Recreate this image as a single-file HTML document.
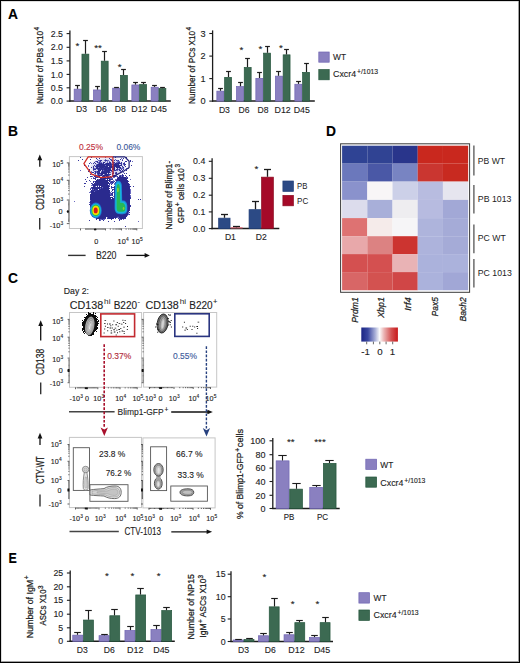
<!DOCTYPE html>
<html><head><meta charset="utf-8"><style>
html,body{margin:0;padding:0;background:#fff;}
svg{display:block;}
text{font-family:"Liberation Sans", sans-serif;stroke:currentColor;stroke-width:0.12px;} text.r{stroke-width:0.25px;} text.n{stroke-width:0;}
</style></head><body>
<svg width="520" height="663" viewBox="0 0 520 663">
<defs><filter id="bl0" x="-5%" y="-5%" width="110%" height="110%"><feGaussianBlur stdDeviation="0.35"/></filter><filter id="bl1" x="-20%" y="-20%" width="140%" height="140%"><feGaussianBlur stdDeviation="0.5"/></filter><filter id="bl2" x="-20%" y="-20%" width="140%" height="140%"><feGaussianBlur stdDeviation="0.6"/></filter><filter id="bl3" x="-30%" y="-30%" width="160%" height="160%"><feGaussianBlur stdDeviation="1.4"/></filter><linearGradient id="cbar" x1="0" x2="1" y1="0" y2="0"><stop offset="0" stop-color="#1b2585"/><stop offset="0.18" stop-color="#3a47a0"/><stop offset="0.38" stop-color="#a9b0d8"/><stop offset="0.5" stop-color="#fbfbfb"/><stop offset="0.62" stop-color="#ebb4b4"/><stop offset="0.82" stop-color="#d45252"/><stop offset="1" stop-color="#c8181a"/></linearGradient></defs>
<rect x="0.5" y="0.5" width="519" height="662" fill="#fff" stroke="#000" stroke-width="1"/>
<rect x="1.5" y="1.5" width="517" height="660" fill="none" stroke="#dedede" stroke-width="1"/>
<line x1="518.5" y1="1" x2="518.5" y2="662" stroke="#a0a0a0" stroke-width="1"/>
<line x1="1" y1="661.5" x2="519" y2="661.5" stroke="#a0a0a0" stroke-width="1"/>
<text x="8.1" y="18.7" font-size="13.8" text-anchor="start" fill="#000" color="#000" font-weight="bold" >A</text>
<text x="8.0" y="136.2" font-size="13.8" text-anchor="start" fill="#000" color="#000" font-weight="bold" >B</text>
<text x="7.9" y="282.9" font-size="13.8" text-anchor="start" fill="#000" color="#000" font-weight="bold" >C</text>
<text x="326.0" y="136.4" font-size="13.8" text-anchor="start" fill="#000" color="#000" font-weight="bold" >D</text>
<text x="8.4" y="562.8" font-size="13.8" text-anchor="start" fill="#000" color="#000" font-weight="bold" textLength="8.3" lengthAdjust="spacingAndGlyphs" >E</text>
<line x1="69.9" y1="30.5" x2="69.9" y2="101.69999999999999" stroke="#1c1c1c" stroke-width="1.3" />
<line x1="66.60000000000001" y1="33.6" x2="69.9" y2="33.6" stroke="#1c1c1c" stroke-width="1.1" />
<text x="63.0" y="36.77" font-size="8.8" text-anchor="end" fill="#1c1c1c" color="#1c1c1c" >2.5</text>
<line x1="66.60000000000001" y1="47.3" x2="69.9" y2="47.3" stroke="#1c1c1c" stroke-width="1.1" />
<text x="63.0" y="50.47" font-size="8.8" text-anchor="end" fill="#1c1c1c" color="#1c1c1c" >2.0</text>
<line x1="66.60000000000001" y1="60.9" x2="69.9" y2="60.9" stroke="#1c1c1c" stroke-width="1.1" />
<text x="63.0" y="64.07" font-size="8.8" text-anchor="end" fill="#1c1c1c" color="#1c1c1c" >1.5</text>
<line x1="66.60000000000001" y1="74.4" x2="69.9" y2="74.4" stroke="#1c1c1c" stroke-width="1.1" />
<text x="63.0" y="77.57" font-size="8.8" text-anchor="end" fill="#1c1c1c" color="#1c1c1c" >1.0</text>
<line x1="66.60000000000001" y1="87.8" x2="69.9" y2="87.8" stroke="#1c1c1c" stroke-width="1.1" />
<text x="63.0" y="90.97" font-size="8.8" text-anchor="end" fill="#1c1c1c" color="#1c1c1c" >0.5</text>
<line x1="66.60000000000001" y1="101.1" x2="69.9" y2="101.1" stroke="#1c1c1c" stroke-width="1.1" />
<text x="63.0" y="104.27" font-size="8.8" text-anchor="end" fill="#1c1c1c" color="#1c1c1c" >0.0</text>
<line x1="69.3" y1="101.1" x2="170.8" y2="101.1" stroke="#1c1c1c" stroke-width="1.5" />
<rect x="74.15" y="89.15" width="7.10" height="11.95" fill="#8a80c0" stroke="#6f64b2" stroke-width="0.7"/>
<rect x="81.95" y="54.15" width="6.90" height="46.95" fill="#3c6a52" stroke="#24553c" stroke-width="0.7"/>
<line x1="77.50" y1="88.8" x2="77.50" y2="85.5" stroke="#1c1c1c" stroke-width="1.2" />
<line x1="75.10" y1="85.5" x2="79.90" y2="85.5" stroke="#1c1c1c" stroke-width="1.2" />
<line x1="85.50" y1="53.8" x2="85.50" y2="40.5" stroke="#1c1c1c" stroke-width="1.2" />
<line x1="83.10" y1="40.5" x2="87.90" y2="40.5" stroke="#1c1c1c" stroke-width="1.2" />
<rect x="93.45" y="89.95" width="7.10" height="11.15" fill="#8a80c0" stroke="#6f64b2" stroke-width="0.7"/>
<rect x="101.25" y="61.15" width="6.90" height="39.95" fill="#3c6a52" stroke="#24553c" stroke-width="0.7"/>
<line x1="97.50" y1="89.6" x2="97.50" y2="86.5" stroke="#1c1c1c" stroke-width="1.2" />
<line x1="95.10" y1="86.5" x2="99.90" y2="86.5" stroke="#1c1c1c" stroke-width="1.2" />
<line x1="104.50" y1="60.8" x2="104.50" y2="51.5" stroke="#1c1c1c" stroke-width="1.2" />
<line x1="102.10" y1="51.5" x2="106.90" y2="51.5" stroke="#1c1c1c" stroke-width="1.2" />
<rect x="112.65" y="88.15" width="7.10" height="12.95" fill="#8a80c0" stroke="#6f64b2" stroke-width="0.7"/>
<rect x="120.45" y="75.35" width="6.90" height="25.75" fill="#3c6a52" stroke="#24553c" stroke-width="0.7"/>
<line x1="114.10" y1="87.5" x2="118.90" y2="87.5" stroke="#1c1c1c" stroke-width="1.2" />
<line x1="123.50" y1="75.0" x2="123.50" y2="69.5" stroke="#1c1c1c" stroke-width="1.2" />
<line x1="121.10" y1="69.5" x2="125.90" y2="69.5" stroke="#1c1c1c" stroke-width="1.2" />
<rect x="131.85" y="84.95" width="7.10" height="16.15" fill="#8a80c0" stroke="#6f64b2" stroke-width="0.7"/>
<rect x="139.65" y="84.55" width="6.90" height="16.55" fill="#3c6a52" stroke="#24553c" stroke-width="0.7"/>
<line x1="135.50" y1="84.6" x2="135.50" y2="82.5" stroke="#1c1c1c" stroke-width="1.2" />
<line x1="133.10" y1="82.5" x2="137.90" y2="82.5" stroke="#1c1c1c" stroke-width="1.2" />
<line x1="143.50" y1="84.2" x2="143.50" y2="82.5" stroke="#1c1c1c" stroke-width="1.2" />
<line x1="141.10" y1="82.5" x2="145.90" y2="82.5" stroke="#1c1c1c" stroke-width="1.2" />
<rect x="151.15" y="87.25" width="7.10" height="13.85" fill="#8a80c0" stroke="#6f64b2" stroke-width="0.7"/>
<rect x="158.95" y="88.55" width="6.90" height="12.55" fill="#3c6a52" stroke="#24553c" stroke-width="0.7"/>
<line x1="154.50" y1="86.9" x2="154.50" y2="85.5" stroke="#1c1c1c" stroke-width="1.2" />
<line x1="152.10" y1="85.5" x2="156.90" y2="85.5" stroke="#1c1c1c" stroke-width="1.2" />
<line x1="162.50" y1="88.2" x2="162.50" y2="87.5" stroke="#1c1c1c" stroke-width="1.2" />
<line x1="160.10" y1="87.5" x2="164.90" y2="87.5" stroke="#1c1c1c" stroke-width="1.2" />
<text x="81.6" y="112.4" font-size="9.2" text-anchor="middle" fill="#1c1c1c" color="#1c1c1c" textLength="11" lengthAdjust="spacingAndGlyphs" >D3</text>
<text x="101.2" y="112.4" font-size="9.2" text-anchor="middle" fill="#1c1c1c" color="#1c1c1c" textLength="11" lengthAdjust="spacingAndGlyphs" >D6</text>
<text x="120.2" y="112.4" font-size="9.2" text-anchor="middle" fill="#1c1c1c" color="#1c1c1c" textLength="11" lengthAdjust="spacingAndGlyphs" >D8</text>
<text x="139.4" y="112.4" font-size="9.2" text-anchor="middle" fill="#1c1c1c" color="#1c1c1c" textLength="16.2" lengthAdjust="spacingAndGlyphs" >D12</text>
<text x="158.9" y="112.4" font-size="9.2" text-anchor="middle" fill="#1c1c1c" color="#1c1c1c" textLength="16.2" lengthAdjust="spacingAndGlyphs" >D45</text>
<text x="77.4" y="48.9" font-size="9.8" text-anchor="middle" fill="#1c1c1c" color="#1c1c1c" >*</text>
<text x="98.0" y="51.4" font-size="9.8" text-anchor="middle" fill="#1c1c1c" color="#1c1c1c" >**</text>
<text x="119.7" y="70.0" font-size="9.8" text-anchor="middle" fill="#1c1c1c" color="#1c1c1c" >*</text>
<text transform="translate(43.2,104.0) rotate(-90)" font-size="9.9" text-anchor="start" fill="#1c1c1c" color="#1c1c1c" class="r" textLength="73.2" lengthAdjust="spacingAndGlyphs">Number of PBs X10</text>
<text transform="translate(39.300000000000004,30.4) rotate(-90)" font-size="6.6" text-anchor="start" fill="#1c1c1c" color="#1c1c1c" class="r">4</text>
<line x1="212.6" y1="30.4" x2="212.6" y2="101.69999999999999" stroke="#1c1c1c" stroke-width="1.3" />
<line x1="209.29999999999998" y1="33.5" x2="212.6" y2="33.5" stroke="#1c1c1c" stroke-width="1.1" />
<text x="205.5" y="36.81" font-size="9.2" text-anchor="end" fill="#1c1c1c" color="#1c1c1c" >3</text>
<line x1="209.29999999999998" y1="56.1" x2="212.6" y2="56.1" stroke="#1c1c1c" stroke-width="1.1" />
<text x="205.5" y="59.41" font-size="9.2" text-anchor="end" fill="#1c1c1c" color="#1c1c1c" >2</text>
<line x1="209.29999999999998" y1="78.6" x2="212.6" y2="78.6" stroke="#1c1c1c" stroke-width="1.1" />
<text x="205.5" y="81.91" font-size="9.2" text-anchor="end" fill="#1c1c1c" color="#1c1c1c" >1</text>
<line x1="209.29999999999998" y1="101.1" x2="212.6" y2="101.1" stroke="#1c1c1c" stroke-width="1.1" />
<text x="205.5" y="104.41" font-size="9.2" text-anchor="end" fill="#1c1c1c" color="#1c1c1c" >0</text>
<line x1="212.0" y1="101.1" x2="314.8" y2="101.1" stroke="#1c1c1c" stroke-width="1.5" />
<rect x="216.85" y="91.15" width="7.10" height="9.95" fill="#8a80c0" stroke="#6f64b2" stroke-width="0.7"/>
<rect x="224.65" y="77.35" width="6.90" height="23.75" fill="#3c6a52" stroke="#24553c" stroke-width="0.7"/>
<line x1="220.50" y1="90.8" x2="220.50" y2="88.5" stroke="#1c1c1c" stroke-width="1.2" />
<line x1="218.10" y1="88.5" x2="222.90" y2="88.5" stroke="#1c1c1c" stroke-width="1.2" />
<line x1="228.50" y1="77.0" x2="228.50" y2="71.5" stroke="#1c1c1c" stroke-width="1.2" />
<line x1="226.10" y1="71.5" x2="230.90" y2="71.5" stroke="#1c1c1c" stroke-width="1.2" />
<rect x="236.45" y="86.55" width="7.10" height="14.55" fill="#8a80c0" stroke="#6f64b2" stroke-width="0.7"/>
<rect x="244.25" y="67.45" width="6.90" height="33.65" fill="#3c6a52" stroke="#24553c" stroke-width="0.7"/>
<line x1="240.50" y1="86.2" x2="240.50" y2="82.5" stroke="#1c1c1c" stroke-width="1.2" />
<line x1="238.10" y1="82.5" x2="242.90" y2="82.5" stroke="#1c1c1c" stroke-width="1.2" />
<line x1="247.50" y1="67.1" x2="247.50" y2="58.5" stroke="#1c1c1c" stroke-width="1.2" />
<line x1="245.10" y1="58.5" x2="249.90" y2="58.5" stroke="#1c1c1c" stroke-width="1.2" />
<rect x="255.85" y="78.35" width="7.10" height="22.75" fill="#8a80c0" stroke="#6f64b2" stroke-width="0.7"/>
<rect x="263.65" y="53.15" width="6.90" height="47.95" fill="#3c6a52" stroke="#24553c" stroke-width="0.7"/>
<line x1="259.50" y1="78.0" x2="259.50" y2="72.5" stroke="#1c1c1c" stroke-width="1.2" />
<line x1="257.10" y1="72.5" x2="261.90" y2="72.5" stroke="#1c1c1c" stroke-width="1.2" />
<line x1="267.50" y1="52.8" x2="267.50" y2="46.5" stroke="#1c1c1c" stroke-width="1.2" />
<line x1="265.10" y1="46.5" x2="269.90" y2="46.5" stroke="#1c1c1c" stroke-width="1.2" />
<rect x="275.35" y="76.15" width="7.10" height="24.95" fill="#8a80c0" stroke="#6f64b2" stroke-width="0.7"/>
<rect x="283.15" y="54.85" width="6.90" height="46.25" fill="#3c6a52" stroke="#24553c" stroke-width="0.7"/>
<line x1="278.50" y1="75.8" x2="278.50" y2="71.5" stroke="#1c1c1c" stroke-width="1.2" />
<line x1="276.10" y1="71.5" x2="280.90" y2="71.5" stroke="#1c1c1c" stroke-width="1.2" />
<line x1="286.50" y1="54.5" x2="286.50" y2="49.5" stroke="#1c1c1c" stroke-width="1.2" />
<line x1="284.10" y1="49.5" x2="288.90" y2="49.5" stroke="#1c1c1c" stroke-width="1.2" />
<rect x="294.85" y="84.25" width="7.10" height="16.85" fill="#8a80c0" stroke="#6f64b2" stroke-width="0.7"/>
<rect x="302.65" y="72.35" width="6.90" height="28.75" fill="#3c6a52" stroke="#24553c" stroke-width="0.7"/>
<line x1="298.50" y1="83.9" x2="298.50" y2="81.5" stroke="#1c1c1c" stroke-width="1.2" />
<line x1="296.10" y1="81.5" x2="300.90" y2="81.5" stroke="#1c1c1c" stroke-width="1.2" />
<line x1="306.50" y1="72.0" x2="306.50" y2="63.5" stroke="#1c1c1c" stroke-width="1.2" />
<line x1="304.10" y1="63.5" x2="308.90" y2="63.5" stroke="#1c1c1c" stroke-width="1.2" />
<text x="224.4" y="112.6" font-size="9.2" text-anchor="middle" fill="#1c1c1c" color="#1c1c1c" textLength="11" lengthAdjust="spacingAndGlyphs" >D3</text>
<text x="244.0" y="112.6" font-size="9.2" text-anchor="middle" fill="#1c1c1c" color="#1c1c1c" textLength="11" lengthAdjust="spacingAndGlyphs" >D6</text>
<text x="263.1" y="112.6" font-size="9.2" text-anchor="middle" fill="#1c1c1c" color="#1c1c1c" textLength="11" lengthAdjust="spacingAndGlyphs" >D8</text>
<text x="282.6" y="112.6" font-size="9.2" text-anchor="middle" fill="#1c1c1c" color="#1c1c1c" textLength="16.2" lengthAdjust="spacingAndGlyphs" >D12</text>
<text x="301.8" y="112.6" font-size="9.2" text-anchor="middle" fill="#1c1c1c" color="#1c1c1c" textLength="16.2" lengthAdjust="spacingAndGlyphs" >D45</text>
<text x="241.5" y="52.9" font-size="9.8" text-anchor="middle" fill="#1c1c1c" color="#1c1c1c" >*</text>
<text x="260.3" y="51.8" font-size="9.8" text-anchor="middle" fill="#1c1c1c" color="#1c1c1c" >*</text>
<text x="280.9" y="51.4" font-size="9.8" text-anchor="middle" fill="#1c1c1c" color="#1c1c1c" >*</text>
<text transform="translate(194.5,104.0) rotate(-90)" font-size="9.9" text-anchor="start" fill="#1c1c1c" color="#1c1c1c" class="r" textLength="73.2" lengthAdjust="spacingAndGlyphs">Number of PCs X10</text>
<text transform="translate(190.6,30.4) rotate(-90)" font-size="6.6" text-anchor="start" fill="#1c1c1c" color="#1c1c1c" class="r">4</text>
<rect x="318.8" y="52.0" width="10.4" height="10.2" fill="#8a80c0" stroke="#6f64b2" stroke-width="0.7" />
<rect x="318.8" y="69.6" width="10.4" height="10.2" fill="#3c6a52" stroke="#24553c" stroke-width="0.7" />
<text x="333.0" y="59.6" font-size="8.9" text-anchor="start" fill="#1c1c1c" color="#1c1c1c" textLength="13.0" lengthAdjust="spacingAndGlyphs" >WT</text>
<text x="333.0" y="77.1" font-size="9.1" text-anchor="start" fill="#1c1c1c" color="#1c1c1c" textLength="23.2" lengthAdjust="spacingAndGlyphs" >Cxcr4</text>
<text x="357.0" y="73.89999999999999" font-size="6.6" text-anchor="start" fill="#1c1c1c" color="#1c1c1c" textLength="21.0" lengthAdjust="spacingAndGlyphs" >+/1013</text>
<rect x="69.4" y="156.6" width="73.0" height="71.9" fill="#fff" stroke="#c6c6c6" stroke-width="1" />
<ellipse cx="108" cy="167" rx="17" ry="9" fill="#c4c4e6" opacity="0.7" filter="url(#bl3)"/>
<g filter="url(#bl0)"><path d="M105 157h1v1h-1zM121 158h1v1h-1zM97 159h1v1h-1zM105 159h1v1h-1zM111 159h1v1h-1zM115 159h1v1h-1zM122 159h1v1h-1zM98 160h2v1h-2zM104 160h1v1h-1zM107 160h2v1h-2zM112 160h1v1h-1zM117 160h1v1h-1zM95 161h1v1h-1zM99 161h1v1h-1zM105 161h1v1h-1zM107 161h1v1h-1zM109 161h1v1h-1zM117 161h3v1h-3zM132 161h1v1h-1zM90 162h1v1h-1zM98 162h1v1h-1zM100 162h2v1h-2zM107 162h1v1h-1zM112 162h1v1h-1zM116 162h2v1h-2zM124 162h1v1h-1zM91 163h1v1h-1zM98 163h1v1h-1zM102 163h1v1h-1zM105 163h1v1h-1zM111 163h1v1h-1zM114 163h1v1h-1zM96 164h1v1h-1zM123 164h1v1h-1zM88 165h1v1h-1zM105 165h1v1h-1zM88 166h1v1h-1zM98 167h1v1h-1zM122 167h1v1h-1zM94 168h2v1h-2zM119 168h1v1h-1zM121 168h3v1h-3zM126 168h1v1h-1zM128 168h1v1h-1zM97 169h1v1h-1zM118 169h1v1h-1zM80 170h1v1h-1zM93 170h1v1h-1zM103 170h1v1h-1zM113 170h1v1h-1zM116 170h2v1h-2zM124 170h1v1h-1zM91 171h1v1h-1zM94 171h1v1h-1zM96 171h1v1h-1zM101 171h1v1h-1zM111 171h1v1h-1zM113 171h1v1h-1zM120 171h2v1h-2zM91 172h1v1h-1zM96 172h1v1h-1zM110 172h1v1h-1zM115 172h1v1h-1zM123 172h1v1h-1zM94 173h1v1h-1zM93 174h1v1h-1zM95 174h1v1h-1zM97 174h1v1h-1zM99 174h2v1h-2zM104 174h1v1h-1zM112 174h1v1h-1zM95 175h1v1h-1zM97 175h1v1h-1zM102 175h1v1h-1zM109 175h1v1h-1zM112 175h1v1h-1zM115 175h2v1h-2zM119 175h1v1h-1zM121 175h1v1h-1zM92 176h1v1h-1zM96 176h1v1h-1zM105 176h1v1h-1zM108 176h1v1h-1zM116 176h1v1h-1zM121 176h1v1h-1zM123 176h1v1h-1zM93 177h1v1h-1zM98 177h1v1h-1zM101 177h1v1h-1zM113 177h2v1h-2zM117 177h1v1h-1zM126 177h1v1h-1zM91 178h1v1h-1zM110 178h3v1h-3zM98 179h1v1h-1zM105 179h1v1h-1zM115 179h2v1h-2zM130 179h1v1h-1zM110 180h1v1h-1zM113 180h1v1h-1zM115 180h1v1h-1zM90 181h1v1h-1zM94 181h1v1h-1zM110 181h1v1h-1zM113 181h1v1h-1zM92 183h1v1h-1zM110 183h2v1h-2zM114 183h1v1h-1zM114 184h1v1h-1zM91 185h2v1h-2zM98 185h1v1h-1zM109 185h1v1h-1zM129 185h1v1h-1zM95 186h1v1h-1zM102 187h1v1h-1zM90 188h2v1h-2zM100 188h1v1h-1zM111 188h1v1h-1zM93 189h1v1h-1zM130 189h1v1h-1zM130 190h1v1h-1zM90 191h1v1h-1zM94 191h1v1h-1zM111 191h1v1h-1zM130 191h1v1h-1zM89 192h2v1h-2zM110 192h1v1h-1zM113 192h1v1h-1zM130 192h1v1h-1zM110 193h1v1h-1zM130 193h1v1h-1zM110 194h1v1h-1zM111 195h1v1h-1zM130 195h1v1h-1zM113 196h1v1h-1zM130 196h1v1h-1zM90 200h1v1h-1zM74 201h1v1h-1zM89 202h1v1h-1zM90 207h1v1h-1zM90 209h1v1h-1zM90 210h1v1h-1zM91 212h1v1h-1zM128 212h1v1h-1zM128 213h1v1h-1zM92 214h1v1h-1zM128 214h1v1h-1zM127 215h1v1h-1zM93 216h1v1h-1zM107 217h1v1h-1zM117 217h2v1h-2zM119 218h1v1h-1zM100 219h2v1h-2zM103 219h2v1h-2zM120 219h1v1h-1zM123 219h1v1h-1zM100 220h1v1h-1zM138 221h1v1h-1z" fill="#6a6ac0"/><path d="M80 157h1v1h-1zM91 157h1v1h-1zM115 157h1v1h-1zM126 157h1v1h-1zM96 158h1v1h-1zM99 158h1v1h-1zM109 158h1v1h-1zM123 158h1v1h-1zM82 159h1v1h-1zM90 159h1v1h-1zM110 159h1v1h-1zM120 159h1v1h-1zM78 160h1v1h-1zM100 160h2v1h-2zM105 160h2v1h-2zM111 160h1v1h-1zM114 160h1v1h-1zM116 160h1v1h-1zM118 160h1v1h-1zM122 160h1v1h-1zM130 160h1v1h-1zM96 161h2v1h-2zM100 161h1v1h-1zM112 161h1v1h-1zM125 161h2v1h-2zM130 161h1v1h-1zM94 162h1v1h-1zM97 162h1v1h-1zM99 162h1v1h-1zM109 162h2v1h-2zM113 162h2v1h-2zM118 162h2v1h-2zM121 162h1v1h-1zM89 163h1v1h-1zM93 163h1v1h-1zM95 163h1v1h-1zM100 163h1v1h-1zM109 163h1v1h-1zM113 163h1v1h-1zM116 163h1v1h-1zM120 163h2v1h-2zM123 163h2v1h-2zM97 164h1v1h-1zM109 164h1v1h-1zM111 164h3v1h-3zM117 164h1v1h-1zM121 164h1v1h-1zM124 164h2v1h-2zM84 165h1v1h-1zM94 165h1v1h-1zM96 165h1v1h-1zM98 165h1v1h-1zM110 165h2v1h-2zM119 165h1v1h-1zM124 165h1v1h-1zM131 165h1v1h-1zM93 166h1v1h-1zM95 166h2v1h-2zM114 166h1v1h-1zM122 166h1v1h-1zM125 166h1v1h-1zM91 167h1v1h-1zM93 167h1v1h-1zM96 167h1v1h-1zM99 167h1v1h-1zM104 167h1v1h-1zM113 167h1v1h-1zM123 167h1v1h-1zM93 168h1v1h-1zM100 168h1v1h-1zM102 168h2v1h-2zM110 168h1v1h-1zM117 168h1v1h-1zM120 168h1v1h-1zM127 168h1v1h-1zM89 169h1v1h-1zM93 169h3v1h-3zM99 169h1v1h-1zM101 169h1v1h-1zM103 169h1v1h-1zM107 169h1v1h-1zM116 169h2v1h-2zM119 169h1v1h-1zM121 169h1v1h-1zM123 169h1v1h-1zM89 170h1v1h-1zM104 170h1v1h-1zM114 170h2v1h-2zM119 170h2v1h-2zM122 170h1v1h-1zM126 170h1v1h-1zM88 171h1v1h-1zM95 171h1v1h-1zM103 171h1v1h-1zM109 171h1v1h-1zM112 171h1v1h-1zM92 172h2v1h-2zM95 172h1v1h-1zM97 172h2v1h-2zM107 172h1v1h-1zM113 172h1v1h-1zM116 172h1v1h-1zM120 172h1v1h-1zM95 173h1v1h-1zM97 173h1v1h-1zM100 173h1v1h-1zM112 173h2v1h-2zM115 173h2v1h-2zM124 173h1v1h-1zM126 173h1v1h-1zM90 174h1v1h-1zM98 174h1v1h-1zM108 174h3v1h-3zM117 174h1v1h-1zM122 174h1v1h-1zM96 175h1v1h-1zM98 175h1v1h-1zM108 175h1v1h-1zM113 175h2v1h-2zM120 175h1v1h-1zM122 175h2v1h-2zM125 175h1v1h-1zM129 175h1v1h-1zM90 176h2v1h-2zM94 176h2v1h-2zM98 176h1v1h-1zM102 176h1v1h-1zM110 176h1v1h-1zM114 176h2v1h-2zM117 176h1v1h-1zM126 176h1v1h-1zM87 177h1v1h-1zM95 177h3v1h-3zM109 177h3v1h-3zM127 177h1v1h-1zM93 178h3v1h-3zM102 178h1v1h-1zM109 178h1v1h-1zM127 178h1v1h-1zM85 179h1v1h-1zM95 179h1v1h-1zM110 179h3v1h-3zM89 180h1v1h-1zM86 181h1v1h-1zM93 181h1v1h-1zM111 181h2v1h-2zM114 181h1v1h-1zM128 181h1v1h-1zM93 182h1v1h-1zM96 182h1v1h-1zM110 182h4v1h-4zM84 183h2v1h-2zM91 183h1v1h-1zM95 183h1v1h-1zM109 183h1v1h-1zM112 183h1v1h-1zM92 184h1v1h-1zM109 184h1v1h-1zM111 184h1v1h-1zM129 184h1v1h-1zM96 185h1v1h-1zM84 186h1v1h-1zM109 186h1v1h-1zM111 186h1v1h-1zM130 186h1v1h-1zM133 186h1v1h-1zM91 187h1v1h-1zM97 187h1v1h-1zM111 187h3v1h-3zM102 188h1v1h-1zM90 189h1v1h-1zM92 189h1v1h-1zM95 189h1v1h-1zM97 189h1v1h-1zM112 189h2v1h-2zM92 190h1v1h-1zM95 190h2v1h-2zM112 190h1v1h-1zM112 192h1v1h-1zM109 193h1v1h-1zM111 193h2v1h-2zM111 194h2v1h-2zM110 195h1v1h-1zM112 195h1v1h-1zM130 197h1v1h-1zM130 198h1v1h-1zM138 199h1v1h-1zM140 199h1v1h-1zM90 203h1v1h-1zM89 204h2v1h-2zM130 205h1v1h-1zM90 206h1v1h-1zM130 206h1v1h-1zM129 209h1v1h-1zM129 210h1v1h-1zM91 211h1v1h-1zM129 212h1v1h-1zM91 214h1v1h-1zM129 214h1v1h-1zM92 215h1v1h-1zM92 216h1v1h-1zM117 216h2v1h-2zM116 217h1v1h-1zM104 218h2v1h-2zM107 218h2v1h-2zM115 218h1v1h-1zM118 218h1v1h-1zM124 218h2v1h-2zM96 219h1v1h-1zM99 219h1v1h-1zM102 219h1v1h-1zM111 219h1v1h-1zM119 219h1v1h-1zM121 219h1v1h-1zM89 220h1v1h-1zM99 220h1v1h-1zM103 220h1v1h-1zM119 220h1v1h-1zM108 221h1v1h-1zM114 221h1v1h-1zM125 226h1v1h-1z" fill="#35359c"/><path d="M103 162h2v1h-2zM99 163h1v1h-1zM101 163h1v1h-1zM103 163h1v1h-1zM106 163h3v1h-3zM110 163h1v1h-1zM115 163h1v1h-1zM117 163h3v1h-3zM98 164h11v1h-11zM110 164h1v1h-1zM114 164h3v1h-3zM118 164h1v1h-1zM97 165h1v1h-1zM99 165h6v1h-6zM106 165h4v1h-4zM113 165h6v1h-6zM120 165h2v1h-2zM97 166h11v1h-11zM109 166h5v1h-5zM115 166h5v1h-5zM97 167h1v1h-1zM100 167h4v1h-4zM105 167h8v1h-8zM114 167h1v1h-1zM116 167h5v1h-5zM96 168h4v1h-4zM101 168h1v1h-1zM104 168h6v1h-6zM112 168h3v1h-3zM98 169h1v1h-1zM100 169h1v1h-1zM102 169h1v1h-1zM104 169h3v1h-3zM108 169h3v1h-3zM112 169h3v1h-3zM98 170h3v1h-3zM102 170h1v1h-1zM105 170h7v1h-7zM97 171h3v1h-3zM102 171h1v1h-1zM104 171h5v1h-5zM99 172h1v1h-1zM101 172h6v1h-6zM108 172h2v1h-2zM98 173h2v1h-2zM101 173h6v1h-6zM108 173h1v1h-1zM101 174h2v1h-2zM105 174h3v1h-3zM99 175h3v1h-3zM103 175h5v1h-5zM99 176h1v1h-1zM103 176h2v1h-2zM106 176h2v1h-2zM119 176h2v1h-2zM122 176h1v1h-1zM99 177h2v1h-2zM102 177h4v1h-4zM107 177h2v1h-2zM118 177h8v1h-8zM100 178h2v1h-2zM103 178h6v1h-6zM117 178h10v1h-10zM97 179h1v1h-1zM99 179h6v1h-6zM107 179h1v1h-1zM109 179h1v1h-1zM117 179h10v1h-10zM96 180h14v1h-14zM116 180h12v1h-12zM95 181h13v1h-13zM109 181h1v1h-1zM116 181h12v1h-12zM95 182h1v1h-1zM97 182h12v1h-12zM115 182h13v1h-13zM94 183h1v1h-1zM96 183h13v1h-13zM115 183h14v1h-14zM93 184h15v1h-15zM115 184h14v1h-14zM93 185h3v1h-3zM97 185h1v1h-1zM99 185h10v1h-10zM115 185h14v1h-14zM93 186h2v1h-2zM97 186h1v1h-1zM99 186h1v1h-1zM101 186h8v1h-8zM114 186h16v1h-16zM92 187h5v1h-5zM98 187h4v1h-4zM103 187h6v1h-6zM114 187h16v1h-16zM92 188h8v1h-8zM101 188h1v1h-1zM103 188h7v1h-7zM114 188h16v1h-16zM94 189h1v1h-1zM96 189h1v1h-1zM99 189h10v1h-10zM114 189h16v1h-16zM91 190h1v1h-1zM93 190h2v1h-2zM97 190h13v1h-13zM114 190h16v1h-16zM91 191h3v1h-3zM95 191h15v1h-15zM114 191h16v1h-16zM91 192h19v1h-19zM114 192h16v1h-16zM91 193h18v1h-18zM114 193h16v1h-16zM90 194h20v1h-20zM114 194h16v1h-16zM90 195h20v1h-20zM114 195h16v1h-16zM90 196h20v1h-20zM114 196h16v1h-16zM90 197h23v1h-23zM114 197h16v1h-16zM90 198h21v1h-21zM112 198h18v1h-18zM90 199h40v1h-40zM91 200h39v1h-39zM90 201h40v1h-40zM90 202h40v1h-40zM91 203h39v1h-39zM91 204h39v1h-39zM90 205h40v1h-40zM91 206h39v1h-39zM91 207h39v1h-39zM91 208h39v1h-39zM91 209h38v1h-38zM91 210h38v1h-38zM92 211h37v1h-37zM92 212h36v1h-36zM92 213h36v1h-36zM93 214h35v1h-35zM93 215h34v1h-34zM94 216h23v1h-23zM119 216h8v1h-8zM95 217h11v1h-11zM108 217h8v1h-8zM119 217h7v1h-7zM96 218h8v1h-8zM109 218h5v1h-5zM120 218h4v1h-4z" fill="#2b2c8e"/></g>
<g filter="url(#bl2)"><ellipse cx="95.8" cy="210.4" rx="6.0" ry="8.0" fill="#1e6fd0"/><ellipse cx="95.8" cy="210.4" rx="5.2" ry="7.0" fill="#18b4e0"/><ellipse cx="95.8" cy="210.4" rx="4.4" ry="5.9" fill="#2cbc4c"/><ellipse cx="95.8" cy="210.4" rx="3.4" ry="4.6" fill="#f3e000"/><ellipse cx="95.7" cy="210.4" rx="2.0" ry="2.9" fill="#d8141c"/></g>
<g filter="url(#bl2)"><path d="M114.8,186 C114.8,179.5 121,179 121.8,185 L122.2,200.5 C125,200 127.3,202 127.3,206 L127.3,210 C127.3,214.5 123,214.5 119,214 C115.5,213.6 114.6,211 114.6,207 Z" fill="#1e88d8"/><path d="M115.6,186 C115.6,181 120.4,180.6 121,185.5 L121.4,201.5 C124.3,201 126.4,203 126.4,206 L126.4,210 C126.4,213.4 123,213.4 119,213 C116.2,212.8 115.4,210.5 115.4,207 Z" fill="#16b6dc"/><path d="M116.8,187 C117,183 119.5,183 119.8,187 L120.3,203 C123,202 125.3,204 125.3,207 L125.2,210 C125,212 121,212 119,211.7 C117.2,211.5 116.6,210 116.6,207 Z" fill="#27b858"/><ellipse cx="117.9" cy="190" rx="0.9" ry="2.2" fill="#8acf34"/><ellipse cx="123.6" cy="208.5" rx="0.9" ry="1.4" fill="#8acf34"/></g>
<path d="M88.2,156.8 L112.9,156.8 L112.9,176.6 L100.8,177.6 L91.6,174.2 L83.9,163.6 Z" fill="none" stroke="#d02a22" stroke-width="1.25" stroke-linejoin="round"/>
<path d="M112.9,156.8 L124.8,156.9 L129.1,161.2 L129.1,167.5 L124.3,170.8 L112.9,176.6" fill="none" stroke="#23237a" stroke-width="1.25" stroke-linejoin="round"/>
<text x="79.0" y="150.4" font-size="8.5" text-anchor="start" fill="#c0303c" color="#c0303c" textLength="24.0" lengthAdjust="spacingAndGlyphs" >0.25%</text>
<text x="116.4" y="150.4" font-size="8.5" text-anchor="start" fill="#3d5b9c" color="#3d5b9c" textLength="24.0" lengthAdjust="spacingAndGlyphs" >0.06%</text>
<path d="M66.8 162.90h2.6M66.8 180.30h2.6M66.8 200.00h2.6M66.8 211.40h2.6M66.8 223.60h2.6M68.2 221.66h1.2M68.2 220.52h1.2M68.2 219.38h1.2M68.2 218.24h1.2M68.2 217.10h1.2M68.2 215.96h1.2M68.2 214.82h1.2M68.2 213.68h1.2M68.2 212.54h1.2M68.2 210.26h1.2M68.2 209.12h1.2M68.2 207.98h1.2M68.2 206.84h1.2M68.2 205.70h1.2M68.2 204.56h1.2M68.2 203.42h1.2M68.2 202.28h1.2M68.2 201.14h1.2M68.2 194.07h1.2M68.2 190.60h1.2M68.2 188.14h1.2M68.2 186.23h1.2M68.2 184.67h1.2M68.2 183.35h1.2M68.2 182.21h1.2M68.2 181.20h1.2M68.2 175.06h1.2M68.2 172.00h1.2M68.2 169.82h1.2M68.2 168.14h1.2M68.2 166.76h1.2M68.2 165.60h1.2M68.2 164.59h1.2M68.2 163.70h1.2M80.50 228.5v1.9M95.00 228.5v1.9M105.50 228.5v1.9M121.50 228.5v1.9M136.80 228.5v1.9M85.55 228.5v1.2M86.60 228.5v1.2M87.65 228.5v1.2M88.70 228.5v1.2M89.75 228.5v1.2M90.80 228.5v1.2M91.85 228.5v1.2M92.90 228.5v1.2M93.95 228.5v1.2M96.05 228.5v1.2M97.10 228.5v1.2M98.15 228.5v1.2M99.20 228.5v1.2M100.25 228.5v1.2M101.30 228.5v1.2M102.35 228.5v1.2M103.40 228.5v1.2M104.45 228.5v1.2M110.32 228.5v1.2M113.13 228.5v1.2M115.13 228.5v1.2M116.68 228.5v1.2M117.95 228.5v1.2M119.02 228.5v1.2M119.95 228.5v1.2M120.77 228.5v1.2M126.11 228.5v1.2M128.80 228.5v1.2M130.71 228.5v1.2M132.19 228.5v1.2M133.41 228.5v1.2M134.43 228.5v1.2M135.32 228.5v1.2M136.10 228.5v1.2" stroke="#3a3a3a" stroke-width="0.8" fill="none"/>
<ellipse cx="67.9" cy="211.6" rx="1.0" ry="1.4" fill="#111"/>
<ellipse cx="95.2" cy="229.4" rx="1.3" ry="0.9" fill="#111"/>
<text x="60.3" y="166.6" font-size="7.3" text-anchor="end" fill="#1c1c1c" color="#1c1c1c" >10</text>
<text x="60.599999999999994" y="163.79999999999998" font-size="4.8" text-anchor="start" fill="#1c1c1c" color="#1c1c1c" >5</text>
<text x="60.3" y="183.8" font-size="7.3" text-anchor="end" fill="#1c1c1c" color="#1c1c1c" >10</text>
<text x="60.599999999999994" y="181.0" font-size="4.8" text-anchor="start" fill="#1c1c1c" color="#1c1c1c" >4</text>
<text x="60.3" y="203.4" font-size="7.3" text-anchor="end" fill="#1c1c1c" color="#1c1c1c" >10</text>
<text x="60.599999999999994" y="200.6" font-size="4.8" text-anchor="start" fill="#1c1c1c" color="#1c1c1c" >3</text>
<text x="62.5" y="214.0" font-size="7.3" text-anchor="end" fill="#1c1c1c" color="#1c1c1c" >0</text>
<text x="60.3" y="228.0" font-size="7.3" text-anchor="end" fill="#1c1c1c" color="#1c1c1c" >-10</text>
<text x="60.6" y="225.2" font-size="4.8" text-anchor="start" fill="#1c1c1c" color="#1c1c1c" >3</text>
<text x="96.2" y="243.8" font-size="7.3" text-anchor="middle" fill="#1c1c1c" color="#1c1c1c" >0</text>
<text x="117.6" y="243.8" font-size="7.3" text-anchor="start" fill="#1c1c1c" color="#1c1c1c" >10</text>
<text x="126.01759999999999" y="241.0" font-size="4.8" text-anchor="start" fill="#1c1c1c" color="#1c1c1c" >4</text>
<text x="131.6" y="243.8" font-size="7.3" text-anchor="start" fill="#1c1c1c" color="#1c1c1c" >10</text>
<text x="140.01760000000002" y="241.0" font-size="4.8" text-anchor="start" fill="#1c1c1c" color="#1c1c1c" >5</text>
<text transform="translate(43.5,210.1) rotate(-90)" font-size="11.3" text-anchor="start" fill="#1c1c1c" color="#1c1c1c" class="r" textLength="25.6" lengthAdjust="spacingAndGlyphs">CD138</text>
<path d="M39.8,166.7 L39.8,158.5" stroke="#111" stroke-width="1.3"/><path d="M37.4,160.2 L39.8,154.5 L42.2,160.2 Z" fill="#111"/>
<line x1="39.7" y1="218.0" x2="39.7" y2="229.4" stroke="#333" stroke-width="1.4" />
<text x="95.9" y="258.5" font-size="11.3" text-anchor="start" fill="#1c1c1c" color="#1c1c1c" textLength="20.6" lengthAdjust="spacingAndGlyphs" >B220</text>
<line x1="68.1" y1="255.4" x2="85.6" y2="255.4" stroke="#333" stroke-width="1.4" />
<path d="M126.3,255.4 L146,255.4" stroke="#111" stroke-width="1.3"/><path d="M144.6,253.1 L149.9,255.4 L144.6,257.7 Z" fill="#111"/>
<line x1="212.1" y1="158.2" x2="212.1" y2="229.2" stroke="#1c1c1c" stroke-width="1.3" />
<line x1="208.79999999999998" y1="161.3" x2="212.1" y2="161.3" stroke="#1c1c1c" stroke-width="1.1" />
<text x="205.3" y="164.47" font-size="8.8" text-anchor="end" fill="#1c1c1c" color="#1c1c1c" >0.4</text>
<line x1="208.79999999999998" y1="178.3" x2="212.1" y2="178.3" stroke="#1c1c1c" stroke-width="1.1" />
<text x="205.3" y="181.47" font-size="8.8" text-anchor="end" fill="#1c1c1c" color="#1c1c1c" >0.3</text>
<line x1="208.79999999999998" y1="195.2" x2="212.1" y2="195.2" stroke="#1c1c1c" stroke-width="1.1" />
<text x="205.3" y="198.37" font-size="8.8" text-anchor="end" fill="#1c1c1c" color="#1c1c1c" >0.2</text>
<line x1="208.79999999999998" y1="211.9" x2="212.1" y2="211.9" stroke="#1c1c1c" stroke-width="1.1" />
<text x="205.3" y="215.07" font-size="8.8" text-anchor="end" fill="#1c1c1c" color="#1c1c1c" >0.1</text>
<line x1="208.79999999999998" y1="228.6" x2="212.1" y2="228.6" stroke="#1c1c1c" stroke-width="1.1" />
<text x="205.3" y="231.77" font-size="8.8" text-anchor="end" fill="#1c1c1c" color="#1c1c1c" >0.0</text>
<line x1="211.5" y1="228.6" x2="279.3" y2="228.6" stroke="#1c1c1c" stroke-width="1.5" />
<rect x="218.65" y="218.15" width="11.40" height="10.45" fill="#2c4a85" stroke="#23407a" stroke-width="0.7"/>
<line x1="224.50" y1="217.8" x2="224.50" y2="214.5" stroke="#1c1c1c" stroke-width="1.3" />
<line x1="221.00" y1="214.5" x2="228.00" y2="214.5" stroke="#1c1c1c" stroke-width="1.3" />
<rect x="230.6" y="227.2" width="12.0" height="1.2" fill="#e0707e" stroke="none" stroke-width="1" />
<line x1="236.50" y1="227.3" x2="236.50" y2="226.5" stroke="#1c1c1c" stroke-width="1.3" />
<line x1="233.00" y1="226.5" x2="240.00" y2="226.5" stroke="#1c1c1c" stroke-width="1.3" />
<rect x="249.05" y="209.65" width="11.80" height="18.95" fill="#2c4a85" stroke="#23407a" stroke-width="0.7"/>
<line x1="255.50" y1="209.3" x2="255.50" y2="201.5" stroke="#1c1c1c" stroke-width="1.3" />
<line x1="252.00" y1="201.5" x2="259.00" y2="201.5" stroke="#1c1c1c" stroke-width="1.3" />
<rect x="261.55" y="177.15" width="11.80" height="51.45" fill="#a50a28" stroke="#8a0a20" stroke-width="0.7"/>
<line x1="267.50" y1="176.8" x2="267.50" y2="169.5" stroke="#1c1c1c" stroke-width="1.3" />
<line x1="264.00" y1="169.5" x2="271.00" y2="169.5" stroke="#1c1c1c" stroke-width="1.3" />
<text x="230.4" y="240.2" font-size="9.2" text-anchor="middle" fill="#1c1c1c" color="#1c1c1c" textLength="11" lengthAdjust="spacingAndGlyphs" >D1</text>
<text x="261.3" y="240.2" font-size="9.2" text-anchor="middle" fill="#1c1c1c" color="#1c1c1c" textLength="11" lengthAdjust="spacingAndGlyphs" >D2</text>
<text x="256.4" y="172.4" font-size="9.8" text-anchor="middle" fill="#1c1c1c" color="#1c1c1c" >*</text>
<text transform="translate(172.4,229.4) rotate(-90)" font-size="9.9" text-anchor="start" fill="#1c1c1c" color="#1c1c1c" class="r" textLength="68.6" lengthAdjust="spacingAndGlyphs">Number of Blimp1-</text>
<text transform="translate(184.0,223.2) rotate(-90)" font-size="9.9" text-anchor="start" fill="#1c1c1c" color="#1c1c1c" class="r" textLength="16.4" lengthAdjust="spacingAndGlyphs">GFP</text>
<text transform="translate(180.4,206.2) rotate(-90)" font-size="6.6" text-anchor="start" fill="#1c1c1c" color="#1c1c1c" class="r">+</text>
<text transform="translate(184.0,200.0) rotate(-90)" font-size="9.9" text-anchor="start" fill="#1c1c1c" color="#1c1c1c" class="r" textLength="31.9" lengthAdjust="spacingAndGlyphs">cells x10</text>
<text transform="translate(180.4,167.6) rotate(-90)" font-size="6.6" text-anchor="start" fill="#1c1c1c" color="#1c1c1c" class="r">3</text>
<rect x="282.9" y="181.0" width="10.5" height="10.4" fill="#2c4a85" stroke="#23407a" stroke-width="0.7" />
<rect x="282.9" y="195.4" width="10.5" height="10.4" fill="#a50a28" stroke="#8a0a20" stroke-width="0.7" />
<text x="297.1" y="189.4" font-size="9.1" text-anchor="start" fill="#1c1c1c" color="#1c1c1c" textLength="10.4" lengthAdjust="spacingAndGlyphs" class="n">PB</text>
<text x="297.1" y="203.8" font-size="9.1" text-anchor="start" fill="#1c1c1c" color="#1c1c1c" textLength="11.2" lengthAdjust="spacingAndGlyphs" class="n">PC</text>
<rect x="342.1" y="145.7" width="25.25" height="17.95" fill="#2f4394"/>
<rect x="367.3" y="145.7" width="25.25" height="17.95" fill="#304393"/>
<rect x="392.5" y="145.7" width="25.25" height="17.95" fill="#29358b"/>
<rect x="417.7" y="145.7" width="25.25" height="17.95" fill="#c9281e"/>
<rect x="442.9" y="145.7" width="25.25" height="17.95" fill="#c9281e"/>
<rect x="342.1" y="163.6" width="25.25" height="18.05" fill="#6b78bc"/>
<rect x="367.3" y="163.6" width="25.25" height="18.05" fill="#4a58a6"/>
<rect x="392.5" y="163.6" width="25.25" height="18.05" fill="#7884c2"/>
<rect x="417.7" y="163.6" width="25.25" height="18.05" fill="#ca3630"/>
<rect x="442.9" y="163.6" width="25.25" height="18.05" fill="#c82a20"/>
<rect x="342.1" y="181.6" width="25.25" height="18.35" fill="#8a92cc"/>
<rect x="367.3" y="181.6" width="25.25" height="18.35" fill="#f8f6f7"/>
<rect x="392.5" y="181.6" width="25.25" height="18.35" fill="#ccd0e8"/>
<rect x="417.7" y="181.6" width="25.25" height="18.35" fill="#b8bce0"/>
<rect x="442.9" y="181.6" width="25.25" height="18.35" fill="#e6e5ef"/>
<rect x="342.1" y="199.9" width="25.25" height="18.25" fill="#dcdcec"/>
<rect x="367.3" y="199.9" width="25.25" height="18.25" fill="#a8afd9"/>
<rect x="392.5" y="199.9" width="25.25" height="18.25" fill="#eeedf0"/>
<rect x="417.7" y="199.9" width="25.25" height="18.25" fill="#b7bbe0"/>
<rect x="442.9" y="199.9" width="25.25" height="18.25" fill="#a2a8d6"/>
<rect x="342.1" y="218.1" width="25.25" height="18.15" fill="#de7272"/>
<rect x="367.3" y="218.1" width="25.25" height="18.15" fill="#f5ebea"/>
<rect x="392.5" y="218.1" width="25.25" height="18.15" fill="#f6f5f7"/>
<rect x="417.7" y="218.1" width="25.25" height="18.15" fill="#aeb4dc"/>
<rect x="442.9" y="218.1" width="25.25" height="18.15" fill="#a5abd7"/>
<rect x="342.1" y="236.2" width="25.25" height="17.95" fill="#e8a8aa"/>
<rect x="367.3" y="236.2" width="25.25" height="17.95" fill="#dc8282"/>
<rect x="392.5" y="236.2" width="25.25" height="17.95" fill="#cc3430"/>
<rect x="417.7" y="236.2" width="25.25" height="17.95" fill="#adb3dc"/>
<rect x="442.9" y="236.2" width="25.25" height="17.95" fill="#a5abd7"/>
<rect x="342.1" y="254.1" width="25.25" height="18.05" fill="#d45050"/>
<rect x="367.3" y="254.1" width="25.25" height="18.05" fill="#d45050"/>
<rect x="392.5" y="254.1" width="25.25" height="18.05" fill="#e9b3b5"/>
<rect x="417.7" y="254.1" width="25.25" height="18.05" fill="#abb2dc"/>
<rect x="442.9" y="254.1" width="25.25" height="18.05" fill="#abb2dc"/>
<rect x="342.1" y="272.1" width="25.25" height="18.15" fill="#d86666"/>
<rect x="367.3" y="272.1" width="25.25" height="18.15" fill="#d35250"/>
<rect x="392.5" y="272.1" width="25.25" height="18.15" fill="#d04646"/>
<rect x="417.7" y="272.1" width="25.25" height="18.15" fill="#abb2dc"/>
<rect x="442.9" y="272.1" width="25.25" height="18.15" fill="#a1a7d6"/>
<rect x="340.6" y="143.8" width="129.0" height="148.5" fill="none" stroke="#3a3a3a" stroke-width="1" />
<line x1="473.9" y1="145.5" x2="473.9" y2="175.6" stroke="#555" stroke-width="1.3" />
<line x1="473.9" y1="184.9" x2="473.9" y2="213.4" stroke="#555" stroke-width="1.3" />
<line x1="473.9" y1="224.6" x2="473.9" y2="253.2" stroke="#555" stroke-width="1.3" />
<line x1="473.9" y1="259.0" x2="473.9" y2="287.6" stroke="#555" stroke-width="1.3" />
<text x="477.8" y="164.0" font-size="9.2" text-anchor="start" fill="#1c1c1c" color="#1c1c1c" textLength="27.2" lengthAdjust="spacingAndGlyphs" class="n">PB WT</text>
<text x="477.8" y="202.1" font-size="9.2" text-anchor="start" fill="#1c1c1c" color="#1c1c1c" textLength="33.6" lengthAdjust="spacingAndGlyphs" class="n">PB 1013</text>
<text x="477.8" y="241.2" font-size="9.2" text-anchor="start" fill="#1c1c1c" color="#1c1c1c" textLength="28.0" lengthAdjust="spacingAndGlyphs" class="n">PC WT</text>
<text x="477.8" y="275.8" font-size="9.2" text-anchor="start" fill="#1c1c1c" color="#1c1c1c" textLength="34.0" lengthAdjust="spacingAndGlyphs" class="n">PC 1013</text>
<text transform="translate(357.6,297.2) rotate(-90)" font-size="9.6" font-style="italic" text-anchor="end" fill="#1c1c1c" color="#1c1c1c" class="r" textLength="25.6" lengthAdjust="spacingAndGlyphs">Prdm1</text>
<text transform="translate(384.4,297.2) rotate(-90)" font-size="9.6" font-style="italic" text-anchor="end" fill="#1c1c1c" color="#1c1c1c" class="r" textLength="20.6" lengthAdjust="spacingAndGlyphs">Xbp1</text>
<text transform="translate(411.4,297.2) rotate(-90)" font-size="9.6" font-style="italic" text-anchor="end" fill="#1c1c1c" color="#1c1c1c" class="r" textLength="13.6" lengthAdjust="spacingAndGlyphs">Irf4</text>
<text transform="translate(438.1,297.2) rotate(-90)" font-size="9.6" font-style="italic" text-anchor="end" fill="#1c1c1c" color="#1c1c1c" class="r" textLength="19.0" lengthAdjust="spacingAndGlyphs">Pax5</text>
<text transform="translate(466.3,297.2) rotate(-90)" font-size="9.6" font-style="italic" text-anchor="end" fill="#1c1c1c" color="#1c1c1c" class="r" textLength="24.2" lengthAdjust="spacingAndGlyphs">Bach2</text>
<rect x="361.3" y="327.5" width="36.6" height="14.1" fill="url(#cbar)" stroke="none" stroke-width="1" />
<line x1="366.7" y1="341.6" x2="366.7" y2="344.3" stroke="#555" stroke-width="0.9" />
<line x1="373.4" y1="341.6" x2="373.4" y2="344.3" stroke="#555" stroke-width="0.9" />
<line x1="379.8" y1="341.6" x2="379.8" y2="344.3" stroke="#555" stroke-width="0.9" />
<line x1="386.1" y1="341.6" x2="386.1" y2="344.3" stroke="#555" stroke-width="0.9" />
<line x1="392.7" y1="341.6" x2="392.7" y2="344.3" stroke="#555" stroke-width="0.9" />
<text x="365.6" y="355.3" font-size="9.7" text-anchor="middle" fill="#1c1c1c" color="#1c1c1c" >-1</text>
<text x="379.9" y="355.3" font-size="9.7" text-anchor="middle" fill="#1c1c1c" color="#1c1c1c" >0</text>
<text x="392.4" y="355.3" font-size="9.7" text-anchor="middle" fill="#1c1c1c" color="#1c1c1c" >1</text>
<text x="63.8" y="293.6" font-size="8.5" text-anchor="start" fill="#1c1c1c" color="#1c1c1c" textLength="25.2" lengthAdjust="spacingAndGlyphs" >Day 2:</text>
<text x="69.8" y="308.6" font-size="10.9" text-anchor="start" fill="#1c1c1c" color="#1c1c1c" textLength="33.4" lengthAdjust="spacingAndGlyphs" >CD138</text>
<text x="104.1" y="304.3" font-size="7.5" text-anchor="start" fill="#1c1c1c" color="#1c1c1c" textLength="6.4" lengthAdjust="spacingAndGlyphs" class="n">hi</text>
<text x="113.69999999999999" y="308.6" font-size="10.9" text-anchor="start" fill="#1c1c1c" color="#1c1c1c" textLength="23.4" lengthAdjust="spacingAndGlyphs" >B220</text>
<text x="137.39999999999998" y="304.4" font-size="7.6" text-anchor="start" fill="#1c1c1c" color="#1c1c1c" >-</text>
<text x="145.4" y="308.6" font-size="10.9" text-anchor="start" fill="#1c1c1c" color="#1c1c1c" textLength="33.4" lengthAdjust="spacingAndGlyphs" >CD138</text>
<text x="179.7" y="304.3" font-size="7.5" text-anchor="start" fill="#1c1c1c" color="#1c1c1c" textLength="6.4" lengthAdjust="spacingAndGlyphs" class="n">hi</text>
<text x="189.3" y="308.6" font-size="10.9" text-anchor="start" fill="#1c1c1c" color="#1c1c1c" textLength="23.4" lengthAdjust="spacingAndGlyphs" >B220</text>
<text x="213.0" y="304.4" font-size="7.6" text-anchor="start" fill="#1c1c1c" color="#1c1c1c" >+</text>
<rect x="69.5" y="312.5" width="72.1" height="74.8" fill="#fff" stroke="#c6c6c6" stroke-width="1" />
<rect x="143.6" y="312.5" width="73.1" height="74.6" fill="#fff" stroke="#c6c6c6" stroke-width="1" />
<rect x="69.4" y="437.4" width="72.1" height="70.2" fill="#fff" stroke="#c6c6c6" stroke-width="1" />
<rect x="142.9" y="437.9" width="72.2" height="70.0" fill="#fff" stroke="#c6c6c6" stroke-width="1" />
<path d="M67.60 319.40h1.9M67.60 337.20h1.9M67.60 358.10h1.9M67.60 370.50h1.9M67.60 382.70h1.9M68.40 381.66h1.1M68.40 380.42h1.1M68.40 379.18h1.1M68.40 377.94h1.1M68.40 376.70h1.1M68.40 375.46h1.1M68.40 374.22h1.1M68.40 372.98h1.1M68.40 371.74h1.1M68.40 369.26h1.1M68.40 368.02h1.1M68.40 366.78h1.1M68.40 365.54h1.1M68.40 364.30h1.1M68.40 363.06h1.1M68.40 361.82h1.1M68.40 360.58h1.1M68.40 359.34h1.1M68.40 351.81h1.1M68.40 348.13h1.1M68.40 345.52h1.1M68.40 343.49h1.1M68.40 341.84h1.1M68.40 340.44h1.1M68.40 339.23h1.1M68.40 338.16h1.1M68.40 331.84h1.1M68.40 328.71h1.1M68.40 326.48h1.1M68.40 324.76h1.1M68.40 323.35h1.1M68.40 322.16h1.1M68.40 321.12h1.1M68.40 320.21h1.1M75.50 387.30v1.9M87.00 387.30v1.9M97.80 387.30v1.9M120.00 387.30v1.9M137.20 387.30v1.9M77.28 387.30v1.1M78.36 387.30v1.1M79.44 387.30v1.1M80.52 387.30v1.1M81.60 387.30v1.1M82.68 387.30v1.1M83.76 387.30v1.1M84.84 387.30v1.1M85.92 387.30v1.1M88.08 387.30v1.1M89.16 387.30v1.1M90.24 387.30v1.1M91.32 387.30v1.1M92.40 387.30v1.1M93.48 387.30v1.1M94.56 387.30v1.1M95.64 387.30v1.1M96.72 387.30v1.1M104.48 387.30v1.1M108.39 387.30v1.1M111.17 387.30v1.1M113.32 387.30v1.1M115.07 387.30v1.1M116.56 387.30v1.1M117.85 387.30v1.1M118.98 387.30v1.1M125.18 387.30v1.1M128.21 387.30v1.1M130.36 387.30v1.1M132.02 387.30v1.1M133.38 387.30v1.1M134.54 387.30v1.1M135.53 387.30v1.1M136.41 387.30v1.1" stroke="#3a3a3a" stroke-width="0.8" fill="none"/>
<rect x="67.6" y="369.0" width="1.9" height="3" fill="#111"/>
<rect x="84.8" y="387.3" width="3" height="1.8" fill="#111"/>
<path d="M141.70 319.40h1.9M141.70 337.20h1.9M141.70 358.10h1.9M141.70 370.50h1.9M141.70 382.70h1.9M142.50 381.66h1.1M142.50 380.42h1.1M142.50 379.18h1.1M142.50 377.94h1.1M142.50 376.70h1.1M142.50 375.46h1.1M142.50 374.22h1.1M142.50 372.98h1.1M142.50 371.74h1.1M142.50 369.26h1.1M142.50 368.02h1.1M142.50 366.78h1.1M142.50 365.54h1.1M142.50 364.30h1.1M142.50 363.06h1.1M142.50 361.82h1.1M142.50 360.58h1.1M142.50 359.34h1.1M142.50 351.81h1.1M142.50 348.13h1.1M142.50 345.52h1.1M142.50 343.49h1.1M142.50 341.84h1.1M142.50 340.44h1.1M142.50 339.23h1.1M142.50 338.16h1.1M142.50 331.84h1.1M142.50 328.71h1.1M142.50 326.48h1.1M142.50 324.76h1.1M142.50 323.35h1.1M142.50 322.16h1.1M142.50 321.12h1.1M142.50 320.21h1.1M149.50 387.10v1.9M161.00 387.10v1.9M174.00 387.10v1.9M193.20 387.10v1.9M210.50 387.10v1.9M149.30 387.10v1.1M150.60 387.10v1.1M151.90 387.10v1.1M153.20 387.10v1.1M154.50 387.10v1.1M155.80 387.10v1.1M157.10 387.10v1.1M158.40 387.10v1.1M159.70 387.10v1.1M162.30 387.10v1.1M163.60 387.10v1.1M164.90 387.10v1.1M166.20 387.10v1.1M167.50 387.10v1.1M168.80 387.10v1.1M170.10 387.10v1.1M171.40 387.10v1.1M172.70 387.10v1.1M179.78 387.10v1.1M183.16 387.10v1.1M185.56 387.10v1.1M187.42 387.10v1.1M188.94 387.10v1.1M190.23 387.10v1.1M191.34 387.10v1.1M192.32 387.10v1.1M198.41 387.10v1.1M201.45 387.10v1.1M203.62 387.10v1.1M205.29 387.10v1.1M206.66 387.10v1.1M207.82 387.10v1.1M208.82 387.10v1.1M209.71 387.10v1.1" stroke="#3a3a3a" stroke-width="0.8" fill="none"/>
<rect x="141.7" y="369.0" width="1.9" height="3" fill="#111"/>
<rect x="159.1" y="387.1" width="3" height="1.8" fill="#111"/>
<text x="60.2" y="323.6" font-size="7.2" text-anchor="end" fill="#1c1c1c" color="#1c1c1c" >10</text>
<text x="60.5" y="320.8" font-size="4.8" text-anchor="start" fill="#1c1c1c" color="#1c1c1c" >5</text>
<text x="60.2" y="341.1" font-size="7.2" text-anchor="end" fill="#1c1c1c" color="#1c1c1c" >10</text>
<text x="60.5" y="338.3" font-size="4.8" text-anchor="start" fill="#1c1c1c" color="#1c1c1c" >4</text>
<text x="60.2" y="361.8" font-size="7.2" text-anchor="end" fill="#1c1c1c" color="#1c1c1c" >10</text>
<text x="60.5" y="359.0" font-size="4.8" text-anchor="start" fill="#1c1c1c" color="#1c1c1c" >3</text>
<text x="62.800000000000004" y="373.20000000000005" font-size="7.2" text-anchor="end" fill="#1c1c1c" color="#1c1c1c" >0</text>
<text x="60.2" y="386.1" font-size="7.2" text-anchor="end" fill="#1c1c1c" color="#1c1c1c" >-10</text>
<text x="60.5" y="383.3" font-size="4.8" text-anchor="start" fill="#1c1c1c" color="#1c1c1c" >3</text>
<text x="69.6" y="400.5" font-size="7.2" text-anchor="start" fill="#1c1c1c" color="#1c1c1c" >-10</text>
<text x="80.2064" y="397.7" font-size="4.8" text-anchor="start" fill="#1c1c1c" color="#1c1c1c" >3</text>
<text x="85.1" y="400.5" font-size="7.2" text-anchor="start" fill="#1c1c1c" color="#1c1c1c" >0</text>
<text x="93.3" y="400.5" font-size="7.2" text-anchor="start" fill="#1c1c1c" color="#1c1c1c" >10</text>
<text x="101.5064" y="397.7" font-size="4.8" text-anchor="start" fill="#1c1c1c" color="#1c1c1c" >3</text>
<text x="115.2" y="400.5" font-size="7.2" text-anchor="start" fill="#1c1c1c" color="#1c1c1c" >10</text>
<text x="123.4064" y="397.7" font-size="4.8" text-anchor="start" fill="#1c1c1c" color="#1c1c1c" >4</text>
<text x="132.4" y="400.5" font-size="7.2" text-anchor="start" fill="#1c1c1c" color="#1c1c1c" >10</text>
<text x="140.6064" y="397.7" font-size="4.8" text-anchor="start" fill="#1c1c1c" color="#1c1c1c" >5</text>
<text x="142.6" y="400.5" font-size="7.2" text-anchor="start" fill="#1c1c1c" color="#1c1c1c" >-10</text>
<text x="153.20639999999997" y="397.7" font-size="4.8" text-anchor="start" fill="#1c1c1c" color="#1c1c1c" >3</text>
<text x="158.6" y="400.5" font-size="7.2" text-anchor="start" fill="#1c1c1c" color="#1c1c1c" >0</text>
<text x="168.8" y="400.5" font-size="7.2" text-anchor="start" fill="#1c1c1c" color="#1c1c1c" >10</text>
<text x="177.0064" y="397.7" font-size="4.8" text-anchor="start" fill="#1c1c1c" color="#1c1c1c" >3</text>
<text x="188.4" y="400.5" font-size="7.2" text-anchor="start" fill="#1c1c1c" color="#1c1c1c" >10</text>
<text x="196.6064" y="397.7" font-size="4.8" text-anchor="start" fill="#1c1c1c" color="#1c1c1c" >4</text>
<text x="205.6" y="400.5" font-size="7.2" text-anchor="start" fill="#1c1c1c" color="#1c1c1c" >10</text>
<text x="213.8064" y="397.7" font-size="4.8" text-anchor="start" fill="#1c1c1c" color="#1c1c1c" >5</text>
<path d="M88 312h1v1h-1zM93 312h1v1h-1zM88 313h3v1h-3zM93 313h1v1h-1zM95 313h1v1h-1zM86 314h1v1h-1zM88 314h6v1h-6zM87 315h9v1h-9zM86 316h11v1h-11zM84 317h12v1h-12zM97 317h1v1h-1zM85 318h12v1h-12zM84 319h14v1h-14zM82 320h1v1h-1zM84 320h13v1h-13zM98 320h1v1h-1zM83 321h16v1h-16zM82 322h16v1h-16zM82 323h17v1h-17zM82 324h16v1h-16zM82 325h16v1h-16zM83 326h14v1h-14zM83 327h15v1h-15zM82 328h16v1h-16zM82 329h15v1h-15zM82 330h1v1h-1zM84 330h12v1h-12zM83 331h12v1h-12zM96 331h1v1h-1zM83 332h1v1h-1zM85 332h9v1h-9zM84 333h1v1h-1zM86 333h8v1h-8zM87 334h7v1h-7zM88 335h4v1h-4z" fill="#0c0c0c"/>
<g transform="rotate(10,89.8,325.9)"><ellipse cx="89.8" cy="325.9" rx="4.6" ry="9.6" fill="#7e7e7e"/><ellipse cx="89.8" cy="325.9" rx="3.8" ry="8.6" fill="none" stroke="#c8c8c8" stroke-width="0.55"/><ellipse cx="89.9" cy="326.1" rx="2.6" ry="7.2" fill="#959595" stroke="#d8d8d8" stroke-width="0.5"/><ellipse cx="90.0" cy="326.3" rx="1.4" ry="5.4" fill="#aaaaaa" stroke="#e8e8e8" stroke-width="0.45"/><ellipse cx="90.0" cy="326.5" rx="0.5" ry="3.2" fill="#f4f4f4"/></g>
<path d="M109.1 323.6h1.6v0.9h-1.6zM117.7 325.7h1v1h-1zM123.2 326.7h1.6v0.9h-1.6zM109.6 327.5h1.6v0.9h-1.6zM123.2 322.1h1v1h-1zM107.0 327.2h1.6v0.9h-1.6zM118.4 329.1h1.6v0.9h-1.6zM120.9 323.7h1.6v0.9h-1.6zM119.3 331.3h1v1h-1zM110.6 332.6h1.6v0.9h-1.6zM114.6 327.7h1.6v0.9h-1.6zM125.1 323.1h1v1h-1zM115.4 324.3h1.6v0.9h-1.6zM123.6 331.1h1v1h-1zM123.7 333.1h1v1h-1zM120.3 327.9h1v1h-1zM117.0 332.2h1v1h-1zM126.8 328.9h1v1h-1zM107.0 323.5h1v1h-1zM104.5 320.2h1.6v0.9h-1.6zM127.0 326.1h1v1h-1zM110.8 330.2h1v1h-1zM104.2 328.5h1v1h-1zM118.6 323.2h1.6v0.9h-1.6zM115.7 334.6h1v1h-1zM116.4 329.7h1v1h-1zM104.0 323.2h1.6v0.9h-1.6zM111.8 327.5h1v1h-1zM104.9 325.8h1v1h-1zM112.2 324.3h1v1h-1zM121.6 330.5h1.6v0.9h-1.6zM113.8 331.6h1.6v0.9h-1.6zM113.3 329.3h1.6v0.9h-1.6zM113.4 320.6h1v1h-1zM107.2 330.3h1v1h-1zM103.6 332.5h1v1h-1zM110.3 325.3h1v1h-1zM124.6 319.9h1v1h-1zM122.4 319.7h1v1h-1zM116.8 322.1h1v1h-1z" fill="#1a1a1a"/>
<rect x="100.8" y="313.9" width="33.8" height="22.7" fill="none" stroke="#c22a30" stroke-width="1.6" />
<g transform="rotate(8,162.6,323.5)"><ellipse cx="162.6" cy="323.5" rx="5.4" ry="9.6" fill="#6e6e6e" stroke="#222" stroke-width="0.9"/><ellipse cx="162.7" cy="323.7" rx="3.9" ry="8.0" fill="#9a9a9a" stroke="#444" stroke-width="0.6"/><ellipse cx="162.8" cy="323.9" rx="2.4" ry="6.4" fill="#b4b4b4" stroke="#666" stroke-width="0.5"/><ellipse cx="162.9" cy="324.1" rx="1.0" ry="4.2" fill="#d2d2d2"/></g>
<path d="M169.1 321.3h1v1h-1zM170.7 320.1h1v1h-1zM169.3 321.6h1v1h-1zM168.1 320.7h1v1h-1zM169.7 324.3h1v1h-1zM167.8 317.9h1v1h-1zM167.8 324.5h1v1h-1zM169.9 314.5h1v1h-1zM170.9 326.5h1v1h-1zM169.8 322.0h1v1h-1zM168.1 314.2h1v1h-1zM169.3 314.8h1v1h-1zM156.0 323.4h1v1h-1zM155.2 326.5h1v1h-1zM157.2 331.8h1v1h-1zM157.6 329.0h1v1h-1zM157.5 329.3h1v1h-1zM157.3 323.9h1v1h-1z" fill="#111"/>
<path d="M192.3 325.8h1v1h-1zM197.6 321.7h1.6v0.9h-1.6zM194.2 326.5h1v1h-1zM189.7 325.7h1v1h-1zM183.9 321.8h1v1h-1zM191.5 329.1h1v1h-1zM182.2 326.4h1v1h-1zM197.1 327.9h1v1h-1zM184.3 329.7h1.6v0.9h-1.6zM196.4 326.1h1.6v0.9h-1.6zM185.5 327.5h1.6v0.9h-1.6zM196.4 332.8h1v1h-1zM186.8 329.0h1v1h-1z" fill="#1a1a1a"/>
<rect x="174.8" y="313.8" width="34.4" height="22.6" fill="none" stroke="#2a3580" stroke-width="1.6" />
<text x="107.2" y="359.0" font-size="8.5" text-anchor="start" fill="#b02838" color="#b02838" textLength="24.0" lengthAdjust="spacingAndGlyphs" >0.37%</text>
<text x="173.0" y="359.0" font-size="8.5" text-anchor="start" fill="#3d5b9c" color="#3d5b9c" textLength="24.0" lengthAdjust="spacingAndGlyphs" >0.55%</text>
<line x1="69.0" y1="411.8" x2="114.6" y2="411.8" stroke="#444" stroke-width="1.5" />
<text x="117.6" y="414.9" font-size="9.9" text-anchor="start" fill="#1c1c1c" color="#1c1c1c" textLength="46.0" lengthAdjust="spacingAndGlyphs" >Blimp1-GFP</text>
<text x="164.4" y="412.0" font-size="6.6" text-anchor="start" fill="#1c1c1c" color="#1c1c1c" >+</text>
<path d="M171.2,412 L208.6,412" stroke="#111" stroke-width="1.3"/><path d="M207.4,409.7 L212.8,412 L207.4,414.3 Z" fill="#111"/>
<line x1="104.2" y1="344.3" x2="104.2" y2="428" stroke="#a8102c" stroke-width="1.6" stroke-dasharray="2.7,1.5"/>
<path d="M100.6,427.4 L104.3,429.6 L107.9,427.4 L104.3,436.0 Z" fill="#a8102c"/>
<line x1="206.4" y1="346.2" x2="206.4" y2="428.5" stroke="#27417f" stroke-width="1.4" stroke-dasharray="2.7,1.5"/>
<path d="M202.8,428.0 L206.5,430.2 L210.1,428.0 L206.5,436.6 Z" fill="#27417f"/>
<text transform="translate(44.1,375.1) rotate(-90)" font-size="11.3" text-anchor="start" fill="#1c1c1c" color="#1c1c1c" class="r" textLength="26.2" lengthAdjust="spacingAndGlyphs">CD138</text>
<path d="M40.7,340.4 L40.7,325" stroke="#111" stroke-width="1.3"/><path d="M38.3,326 L40.7,320.2 L43.1,326 Z" fill="#111"/>
<line x1="40.7" y1="382.6" x2="40.7" y2="394.2" stroke="#333" stroke-width="1.4" />
<path d="M67.50 444.50h1.9M67.50 461.30h1.9M67.50 480.50h1.9M67.50 490.00h1.9M67.50 504.00h1.9M68.30 498.55h1.1M68.30 497.60h1.1M68.30 496.65h1.1M68.30 495.70h1.1M68.30 494.75h1.1M68.30 493.80h1.1M68.30 492.85h1.1M68.30 491.90h1.1M68.30 490.95h1.1M68.30 489.05h1.1M68.30 488.10h1.1M68.30 487.15h1.1M68.30 486.20h1.1M68.30 485.25h1.1M68.30 484.30h1.1M68.30 483.35h1.1M68.30 482.40h1.1M68.30 481.45h1.1M68.30 474.72h1.1M68.30 471.34h1.1M68.30 468.94h1.1M68.30 467.08h1.1M68.30 465.56h1.1M68.30 464.27h1.1M68.30 463.16h1.1M68.30 462.18h1.1M68.30 456.24h1.1M68.30 453.28h1.1M68.30 451.19h1.1M68.30 449.56h1.1M68.30 448.23h1.1M68.30 447.10h1.1M68.30 446.13h1.1M68.30 445.27h1.1M75.50 507.60v1.9M87.00 507.60v1.9M99.00 507.60v1.9M120.00 507.60v1.9M137.20 507.60v1.9M76.20 507.60v1.1M77.40 507.60v1.1M78.60 507.60v1.1M79.80 507.60v1.1M81.00 507.60v1.1M82.20 507.60v1.1M83.40 507.60v1.1M84.60 507.60v1.1M85.80 507.60v1.1M88.20 507.60v1.1M89.40 507.60v1.1M90.60 507.60v1.1M91.80 507.60v1.1M93.00 507.60v1.1M94.20 507.60v1.1M95.40 507.60v1.1M96.60 507.60v1.1M97.80 507.60v1.1M105.32 507.60v1.1M109.02 507.60v1.1M111.64 507.60v1.1M113.68 507.60v1.1M115.34 507.60v1.1M116.75 507.60v1.1M117.96 507.60v1.1M119.04 507.60v1.1M125.18 507.60v1.1M128.21 507.60v1.1M130.36 507.60v1.1M132.02 507.60v1.1M133.38 507.60v1.1M134.54 507.60v1.1M135.53 507.60v1.1M136.41 507.60v1.1" stroke="#3a3a3a" stroke-width="0.8" fill="none"/>
<rect x="67.5" y="488.5" width="1.9" height="3" fill="#111"/>
<rect x="84.8" y="507.6" width="3" height="1.8" fill="#111"/>
<path d="M141.00 444.50h1.9M141.00 461.30h1.9M141.00 480.50h1.9M141.00 490.00h1.9M141.00 504.00h1.9M141.80 498.55h1.1M141.80 497.60h1.1M141.80 496.65h1.1M141.80 495.70h1.1M141.80 494.75h1.1M141.80 493.80h1.1M141.80 492.85h1.1M141.80 491.90h1.1M141.80 490.95h1.1M141.80 489.05h1.1M141.80 488.10h1.1M141.80 487.15h1.1M141.80 486.20h1.1M141.80 485.25h1.1M141.80 484.30h1.1M141.80 483.35h1.1M141.80 482.40h1.1M141.80 481.45h1.1M141.80 474.72h1.1M141.80 471.34h1.1M141.80 468.94h1.1M141.80 467.08h1.1M141.80 465.56h1.1M141.80 464.27h1.1M141.80 463.16h1.1M141.80 462.18h1.1M141.80 456.24h1.1M141.80 453.28h1.1M141.80 451.19h1.1M141.80 449.56h1.1M141.80 448.23h1.1M141.80 447.10h1.1M141.80 446.13h1.1M141.80 445.27h1.1M149.00 507.90v1.9M161.00 507.90v1.9M174.00 507.90v1.9M193.00 507.90v1.9M210.50 507.90v1.9M149.30 507.90v1.1M150.60 507.90v1.1M151.90 507.90v1.1M153.20 507.90v1.1M154.50 507.90v1.1M155.80 507.90v1.1M157.10 507.90v1.1M158.40 507.90v1.1M159.70 507.90v1.1M162.30 507.90v1.1M163.60 507.90v1.1M164.90 507.90v1.1M166.20 507.90v1.1M167.50 507.90v1.1M168.80 507.90v1.1M170.10 507.90v1.1M171.40 507.90v1.1M172.70 507.90v1.1M179.72 507.90v1.1M183.07 507.90v1.1M185.44 507.90v1.1M187.28 507.90v1.1M188.78 507.90v1.1M190.06 507.90v1.1M191.16 507.90v1.1M192.13 507.90v1.1M198.27 507.90v1.1M201.35 507.90v1.1M203.54 507.90v1.1M205.23 507.90v1.1M206.62 507.90v1.1M207.79 507.90v1.1M208.80 507.90v1.1M209.70 507.90v1.1" stroke="#3a3a3a" stroke-width="0.8" fill="none"/>
<rect x="141.0" y="488.5" width="1.9" height="3" fill="#111"/>
<rect x="159.1" y="507.9" width="3" height="1.8" fill="#111"/>
<text x="58.8" y="447.1" font-size="7.2" text-anchor="end" fill="#1c1c1c" color="#1c1c1c" >10</text>
<text x="59.099999999999994" y="444.3" font-size="4.8" text-anchor="start" fill="#1c1c1c" color="#1c1c1c" >5</text>
<text x="58.8" y="463.90000000000003" font-size="7.2" text-anchor="end" fill="#1c1c1c" color="#1c1c1c" >10</text>
<text x="59.099999999999994" y="461.1" font-size="4.8" text-anchor="start" fill="#1c1c1c" color="#1c1c1c" >4</text>
<text x="58.8" y="483.1" font-size="7.2" text-anchor="end" fill="#1c1c1c" color="#1c1c1c" >10</text>
<text x="59.099999999999994" y="480.3" font-size="4.8" text-anchor="start" fill="#1c1c1c" color="#1c1c1c" >3</text>
<text x="61.4" y="492.6" font-size="7.2" text-anchor="end" fill="#1c1c1c" color="#1c1c1c" >0</text>
<text x="58.8" y="507.1" font-size="7.2" text-anchor="end" fill="#1c1c1c" color="#1c1c1c" >-10</text>
<text x="59.099999999999994" y="504.3" font-size="4.8" text-anchor="start" fill="#1c1c1c" color="#1c1c1c" >3</text>
<text x="69.6" y="520.6" font-size="7.2" text-anchor="start" fill="#1c1c1c" color="#1c1c1c" >-10</text>
<text x="80.2064" y="517.8000000000001" font-size="4.8" text-anchor="start" fill="#1c1c1c" color="#1c1c1c" >3</text>
<text x="85.1" y="520.6" font-size="7.2" text-anchor="start" fill="#1c1c1c" color="#1c1c1c" >0</text>
<text x="94.8" y="520.6" font-size="7.2" text-anchor="start" fill="#1c1c1c" color="#1c1c1c" >10</text>
<text x="103.0064" y="517.8000000000001" font-size="4.8" text-anchor="start" fill="#1c1c1c" color="#1c1c1c" >3</text>
<text x="115.2" y="520.6" font-size="7.2" text-anchor="start" fill="#1c1c1c" color="#1c1c1c" >10</text>
<text x="123.4064" y="517.8000000000001" font-size="4.8" text-anchor="start" fill="#1c1c1c" color="#1c1c1c" >4</text>
<text x="132.4" y="520.6" font-size="7.2" text-anchor="start" fill="#1c1c1c" color="#1c1c1c" >10</text>
<text x="140.6064" y="517.8000000000001" font-size="4.8" text-anchor="start" fill="#1c1c1c" color="#1c1c1c" >5</text>
<text x="141.6" y="520.6" font-size="7.2" text-anchor="start" fill="#1c1c1c" color="#1c1c1c" >-10</text>
<text x="152.20639999999997" y="517.8000000000001" font-size="4.8" text-anchor="start" fill="#1c1c1c" color="#1c1c1c" >3</text>
<text x="159.2" y="520.6" font-size="7.2" text-anchor="start" fill="#1c1c1c" color="#1c1c1c" >0</text>
<text x="170.2" y="520.6" font-size="7.2" text-anchor="start" fill="#1c1c1c" color="#1c1c1c" >10</text>
<text x="178.4064" y="517.8000000000001" font-size="4.8" text-anchor="start" fill="#1c1c1c" color="#1c1c1c" >3</text>
<text x="188.8" y="520.6" font-size="7.2" text-anchor="start" fill="#1c1c1c" color="#1c1c1c" >10</text>
<text x="197.0064" y="517.8000000000001" font-size="4.8" text-anchor="start" fill="#1c1c1c" color="#1c1c1c" >4</text>
<text x="206.2" y="520.6" font-size="7.2" text-anchor="start" fill="#1c1c1c" color="#1c1c1c" >10</text>
<text x="214.4064" y="517.8000000000001" font-size="4.8" text-anchor="start" fill="#1c1c1c" color="#1c1c1c" >5</text>
<rect x="73.3" y="447.7" width="16.2" height="42.7" fill="none" stroke="#555" stroke-width="0.9" />
<rect x="89.9" y="484.7" width="38.1" height="16.6" fill="none" stroke="#555" stroke-width="0.9" />
<rect x="150.6" y="446.8" width="16.0" height="43.8" fill="none" stroke="#555" stroke-width="0.9" />
<rect x="170.8" y="486.0" width="36.6" height="15.2" fill="none" stroke="#555" stroke-width="0.9" />
<path d="M84.4,472 C83.4,477 82.8,484 83.3,488.4 C84,490.8 87.4,490.8 88,488.4 C88.4,484 87.8,477 86.8,472 Z" fill="#e6e6e6" stroke="#707070" stroke-width="0.8"/>
<path d="M85.1,477 C84.7,481 84.6,484.5 84.9,487.2 C85.3,488.6 86.6,488.6 86.9,487.2 C87.1,484.5 86.9,481 86.4,477 Z" fill="#d4d4d4" stroke="#999" stroke-width="0.5"/>
<circle cx="85.6" cy="469.5" r="3.2" fill="#e6e6e6" stroke="#707070" stroke-width="0.8"/>
<circle cx="85.6" cy="469.6" r="1.7" fill="#d2d2d2" stroke="#8a8a8a" stroke-width="0.5"/>
<path d="M90.0,490.0 C94,489.2 100,489.0 104,488.6 C107,486.6 111,486.0 115,486.0 C119.5,486.0 121.2,488.6 121.2,492.3 C121.2,496.2 119,498.6 114.5,498.6 C110.5,498.6 107,497.8 104,496.0 C100,495.8 94,495.6 90.0,495.0 Z" fill="#e6e6e6" stroke="#606060" stroke-width="0.9"/>
<path d="M92,491.0 C96,490.4 101,490.2 105,489.9 C108,488.2 111,487.6 114.5,487.6 C118,487.6 119.6,489.4 119.6,492.3 C119.6,495.2 118,497.0 114.5,497.0 C111,497.0 108,496.4 105,494.8 C101,494.6 96,494.4 92,494.0 Z" fill="#d4d4d4" stroke="#8a8a8a" stroke-width="0.55"/>
<path d="M97,491.8 C101,491.4 105,491.2 108,490.8 C110,489.6 112,489.2 114.5,489.2 C116.8,489.2 118,490.4 118,492.3 C118,494.2 116.8,495.4 114.5,495.4 C112,495.4 110,495 108,493.8 C105,493.6 101,493.4 97,493.0 Z" fill="#c4c4c4" stroke="#999" stroke-width="0.45"/>
<g stroke="#444" fill="#a4a4a4"><ellipse cx="158.3" cy="483.4" rx="3.9" ry="5.8" stroke-width="0.9"/><rect x="156.2" y="474" width="4.4" height="6" stroke="none"/><ellipse cx="158.5" cy="469.8" rx="4.7" ry="6.3" stroke-width="0.9"/></g>
<g stroke="#777" fill="#c4c4c4" stroke-width="0.5"><ellipse cx="158.5" cy="470.2" rx="3.1" ry="4.8"/><ellipse cx="158.3" cy="484.0" rx="2.4" ry="3.8"/></g>
<g fill="#e4e4e4"><ellipse cx="158.6" cy="470.6" rx="1.2" ry="3.0"/><ellipse cx="158.3" cy="484.2" rx="0.9" ry="2.2"/></g>
<path d="M180,492.3 C180,489.6 184,488.8 188,488.8 C191.5,488.8 193.8,490 193.8,492.3 C193.8,494.6 191.5,495.9 188,495.9 C184,495.9 180,495 180,492.3 Z" fill="#a0a0a0" stroke="#444" stroke-width="0.9"/>
<path d="M182.4,492.3 C182.4,490.8 185,490.3 188,490.3 C190.6,490.3 192.2,491 192.2,492.3 C192.2,493.7 190.6,494.4 188,494.4 C185,494.4 182.4,493.8 182.4,492.3 Z" fill="#c0c0c0" stroke="#777" stroke-width="0.5"/>
<text x="99.1" y="457.2" font-size="8.8" text-anchor="start" fill="#1c1c1c" color="#1c1c1c" textLength="26.2" lengthAdjust="spacingAndGlyphs" >23.8 %</text>
<text x="105.8" y="475.7" font-size="8.8" text-anchor="start" fill="#1c1c1c" color="#1c1c1c" textLength="25.4" lengthAdjust="spacingAndGlyphs" >76.2 %</text>
<text x="176.1" y="457.2" font-size="8.8" text-anchor="start" fill="#1c1c1c" color="#1c1c1c" textLength="26.4" lengthAdjust="spacingAndGlyphs" >66.7 %</text>
<text x="177.6" y="477.5" font-size="8.8" text-anchor="start" fill="#1c1c1c" color="#1c1c1c" textLength="26.2" lengthAdjust="spacingAndGlyphs" >33.3 %</text>
<text transform="translate(43.8,483.8) rotate(-90)" font-size="11.0" text-anchor="start" fill="#1c1c1c" color="#1c1c1c" class="r" textLength="27.5" lengthAdjust="spacingAndGlyphs">CTY-WT</text>
<path d="M40,445 L40,438" stroke="#111" stroke-width="1.3"/><path d="M37.6,438.6 L40,432.8 L42.4,438.6 Z" fill="#111"/>
<line x1="40" y1="494.5" x2="40" y2="506.4" stroke="#333" stroke-width="1.4" />
<line x1="69.5" y1="531.4" x2="118.8" y2="531.4" stroke="#444" stroke-width="1.5" />
<text x="124.4" y="535.3" font-size="11.2" text-anchor="start" fill="#1c1c1c" color="#1c1c1c" textLength="36.6" lengthAdjust="spacingAndGlyphs" >CTV-1013</text>
<path d="M171.3,531.8 L207.5,531.8" stroke="#111" stroke-width="1.3"/><path d="M206.6,529.5 L212.1,531.8 L206.6,534.1 Z" fill="#111"/>
<line x1="272.8" y1="438.1" x2="272.8" y2="509.1" stroke="#1c1c1c" stroke-width="1.3" />
<line x1="269.5" y1="440.8" x2="272.8" y2="440.8" stroke="#1c1c1c" stroke-width="1.1" />
<text x="265.4" y="444.04" font-size="9.0" text-anchor="end" fill="#1c1c1c" color="#1c1c1c" >100</text>
<line x1="269.5" y1="454.7" x2="272.8" y2="454.7" stroke="#1c1c1c" stroke-width="1.1" />
<text x="265.4" y="457.94" font-size="9.0" text-anchor="end" fill="#1c1c1c" color="#1c1c1c" >80</text>
<line x1="269.5" y1="468.1" x2="272.8" y2="468.1" stroke="#1c1c1c" stroke-width="1.1" />
<text x="265.4" y="471.34" font-size="9.0" text-anchor="end" fill="#1c1c1c" color="#1c1c1c" >60</text>
<line x1="269.5" y1="481.5" x2="272.8" y2="481.5" stroke="#1c1c1c" stroke-width="1.1" />
<text x="265.4" y="484.74" font-size="9.0" text-anchor="end" fill="#1c1c1c" color="#1c1c1c" >40</text>
<line x1="269.5" y1="495.3" x2="272.8" y2="495.3" stroke="#1c1c1c" stroke-width="1.1" />
<text x="265.4" y="498.54" font-size="9.0" text-anchor="end" fill="#1c1c1c" color="#1c1c1c" >20</text>
<line x1="269.5" y1="508.5" x2="272.8" y2="508.5" stroke="#1c1c1c" stroke-width="1.1" />
<text x="265.4" y="511.74" font-size="9.0" text-anchor="end" fill="#1c1c1c" color="#1c1c1c" >0</text>
<line x1="272.2" y1="508.5" x2="339.7" y2="508.5" stroke="#1c1c1c" stroke-width="1.5" />
<rect x="276.15" y="460.85" width="12.90" height="47.65" fill="#8a80c0" stroke="#6f64b2" stroke-width="0.7"/>
<rect x="289.75" y="489.15" width="12.70" height="19.35" fill="#3c6a52" stroke="#24553c" stroke-width="0.7"/>
<line x1="282.50" y1="460.5" x2="282.50" y2="455.5" stroke="#1c1c1c" stroke-width="1.1" />
<line x1="278.30" y1="455.5" x2="286.70" y2="455.5" stroke="#1c1c1c" stroke-width="1.1" />
<line x1="296.50" y1="488.8" x2="296.50" y2="483.5" stroke="#1c1c1c" stroke-width="1.1" />
<line x1="292.30" y1="483.5" x2="300.70" y2="483.5" stroke="#1c1c1c" stroke-width="1.1" />
<rect x="309.75" y="487.35" width="12.90" height="21.15" fill="#8a80c0" stroke="#6f64b2" stroke-width="0.7"/>
<rect x="323.35" y="463.35" width="12.70" height="45.15" fill="#3c6a52" stroke="#24553c" stroke-width="0.7"/>
<line x1="316.50" y1="487.0" x2="316.50" y2="485.5" stroke="#1c1c1c" stroke-width="1.1" />
<line x1="312.30" y1="485.5" x2="320.70" y2="485.5" stroke="#1c1c1c" stroke-width="1.1" />
<line x1="329.50" y1="463.0" x2="329.50" y2="460.5" stroke="#1c1c1c" stroke-width="1.1" />
<line x1="325.30" y1="460.5" x2="333.70" y2="460.5" stroke="#1c1c1c" stroke-width="1.1" />
<text x="290.8" y="444.59999999999997" font-size="9.8" text-anchor="middle" fill="#1c1c1c" color="#1c1c1c" >**</text>
<text x="320.0" y="444.59999999999997" font-size="9.8" text-anchor="middle" fill="#1c1c1c" color="#1c1c1c" >***</text>
<text x="289.0" y="520.2" font-size="9.4" text-anchor="middle" fill="#1c1c1c" color="#1c1c1c" textLength="10.6" lengthAdjust="spacingAndGlyphs" >PB</text>
<text x="322.6" y="520.2" font-size="9.4" text-anchor="middle" fill="#1c1c1c" color="#1c1c1c" textLength="11.2" lengthAdjust="spacingAndGlyphs" >PC</text>
<text transform="translate(243.4,519.0) rotate(-90)" font-size="9.9" text-anchor="start" fill="#1c1c1c" color="#1c1c1c" class="r" textLength="66.4" lengthAdjust="spacingAndGlyphs">% of Blimp1-GFP</text>
<text transform="translate(239.6,451.8) rotate(-90)" font-size="6.6" text-anchor="start" fill="#1c1c1c" color="#1c1c1c" class="r">+</text>
<text transform="translate(243.4,447.2) rotate(-90)" font-size="9.9" text-anchor="start" fill="#1c1c1c" color="#1c1c1c" class="r" textLength="18.4" lengthAdjust="spacingAndGlyphs">cells</text>
<rect x="365.8" y="459.2" width="10.8" height="10.2" fill="#8a80c0" stroke="#6f64b2" stroke-width="0.7" />
<rect x="365.8" y="477.0" width="10.8" height="10.2" fill="#3c6a52" stroke="#24553c" stroke-width="0.7" />
<text x="380.3" y="467.6" font-size="8.9" text-anchor="start" fill="#1c1c1c" color="#1c1c1c" textLength="13.0" lengthAdjust="spacingAndGlyphs" >WT</text>
<text x="380.3" y="485.7" font-size="9.1" text-anchor="start" fill="#1c1c1c" color="#1c1c1c" textLength="23.2" lengthAdjust="spacingAndGlyphs" >Cxcr4</text>
<text x="404.3" y="482.5" font-size="6.6" text-anchor="start" fill="#1c1c1c" color="#1c1c1c" textLength="21.0" lengthAdjust="spacingAndGlyphs" >+/1013</text>
<line x1="70.2" y1="570.4" x2="70.2" y2="641.9" stroke="#1c1c1c" stroke-width="1.3" />
<line x1="66.9" y1="573.0" x2="70.2" y2="573.0" stroke="#1c1c1c" stroke-width="1.1" />
<text x="63.2" y="576.17" font-size="8.8" text-anchor="end" fill="#1c1c1c" color="#1c1c1c" >25</text>
<line x1="66.9" y1="586.8" x2="70.2" y2="586.8" stroke="#1c1c1c" stroke-width="1.1" />
<text x="63.2" y="589.97" font-size="8.8" text-anchor="end" fill="#1c1c1c" color="#1c1c1c" >20</text>
<line x1="66.9" y1="600.3" x2="70.2" y2="600.3" stroke="#1c1c1c" stroke-width="1.1" />
<text x="63.2" y="603.47" font-size="8.8" text-anchor="end" fill="#1c1c1c" color="#1c1c1c" >15</text>
<line x1="66.9" y1="614.2" x2="70.2" y2="614.2" stroke="#1c1c1c" stroke-width="1.1" />
<text x="63.2" y="617.37" font-size="8.8" text-anchor="end" fill="#1c1c1c" color="#1c1c1c" >10</text>
<line x1="66.9" y1="627.8" x2="70.2" y2="627.8" stroke="#1c1c1c" stroke-width="1.1" />
<text x="63.2" y="630.97" font-size="8.8" text-anchor="end" fill="#1c1c1c" color="#1c1c1c" >5</text>
<line x1="66.9" y1="641.3" x2="70.2" y2="641.3" stroke="#1c1c1c" stroke-width="1.1" />
<text x="63.2" y="644.47" font-size="8.8" text-anchor="end" fill="#1c1c1c" color="#1c1c1c" >0</text>
<line x1="69.6" y1="641.3" x2="174.8" y2="641.3" stroke="#1c1c1c" stroke-width="1.5" />
<rect x="72.75" y="635.15" width="10.10" height="6.15" fill="#8a80c0" stroke="#6f64b2" stroke-width="0.7"/>
<rect x="83.55" y="620.05" width="9.90" height="21.25" fill="#3c6a52" stroke="#24553c" stroke-width="0.7"/>
<line x1="77.50" y1="634.8" x2="77.50" y2="632.5" stroke="#1c1c1c" stroke-width="1.15" />
<line x1="74.20" y1="632.5" x2="80.80" y2="632.5" stroke="#1c1c1c" stroke-width="1.15" />
<line x1="88.50" y1="619.7" x2="88.50" y2="610.5" stroke="#1c1c1c" stroke-width="1.15" />
<line x1="85.20" y1="610.5" x2="91.80" y2="610.5" stroke="#1c1c1c" stroke-width="1.15" />
<rect x="99.05" y="635.65" width="10.10" height="5.65" fill="#8a80c0" stroke="#6f64b2" stroke-width="0.7"/>
<rect x="109.85" y="615.75" width="9.90" height="25.55" fill="#3c6a52" stroke="#24553c" stroke-width="0.7"/>
<line x1="104.50" y1="635.3" x2="104.50" y2="634.5" stroke="#1c1c1c" stroke-width="1.15" />
<line x1="101.20" y1="634.5" x2="107.80" y2="634.5" stroke="#1c1c1c" stroke-width="1.15" />
<line x1="114.50" y1="615.4" x2="114.50" y2="609.5" stroke="#1c1c1c" stroke-width="1.15" />
<line x1="111.20" y1="609.5" x2="117.80" y2="609.5" stroke="#1c1c1c" stroke-width="1.15" />
<rect x="124.95" y="630.45" width="10.10" height="10.85" fill="#8a80c0" stroke="#6f64b2" stroke-width="0.7"/>
<rect x="135.75" y="594.95" width="9.90" height="46.35" fill="#3c6a52" stroke="#24553c" stroke-width="0.7"/>
<line x1="130.50" y1="630.1" x2="130.50" y2="626.5" stroke="#1c1c1c" stroke-width="1.15" />
<line x1="127.20" y1="626.5" x2="133.80" y2="626.5" stroke="#1c1c1c" stroke-width="1.15" />
<line x1="140.50" y1="594.6" x2="140.50" y2="588.5" stroke="#1c1c1c" stroke-width="1.15" />
<line x1="137.20" y1="588.5" x2="143.80" y2="588.5" stroke="#1c1c1c" stroke-width="1.15" />
<rect x="150.95" y="629.55" width="10.10" height="11.75" fill="#8a80c0" stroke="#6f64b2" stroke-width="0.7"/>
<rect x="161.75" y="610.55" width="9.90" height="30.75" fill="#3c6a52" stroke="#24553c" stroke-width="0.7"/>
<line x1="156.50" y1="629.2" x2="156.50" y2="625.5" stroke="#1c1c1c" stroke-width="1.15" />
<line x1="153.20" y1="625.5" x2="159.80" y2="625.5" stroke="#1c1c1c" stroke-width="1.15" />
<line x1="166.50" y1="610.2" x2="166.50" y2="607.5" stroke="#1c1c1c" stroke-width="1.15" />
<line x1="163.20" y1="607.5" x2="169.80" y2="607.5" stroke="#1c1c1c" stroke-width="1.15" />
<text x="82.3" y="652.6" font-size="9.2" text-anchor="middle" fill="#1c1c1c" color="#1c1c1c" textLength="11" lengthAdjust="spacingAndGlyphs" >D3</text>
<text x="109.3" y="652.6" font-size="9.2" text-anchor="middle" fill="#1c1c1c" color="#1c1c1c" textLength="11" lengthAdjust="spacingAndGlyphs" >D6</text>
<text x="135.3" y="652.6" font-size="9.2" text-anchor="middle" fill="#1c1c1c" color="#1c1c1c" textLength="16.4" lengthAdjust="spacingAndGlyphs" >D12</text>
<text x="161.4" y="652.6" font-size="9.2" text-anchor="middle" fill="#1c1c1c" color="#1c1c1c" textLength="16.4" lengthAdjust="spacingAndGlyphs" >D45</text>
<text x="106.8" y="578.8" font-size="9.8" text-anchor="middle" fill="#1c1c1c" color="#1c1c1c" >*</text>
<text x="132.4" y="578.8" font-size="9.8" text-anchor="middle" fill="#1c1c1c" color="#1c1c1c" >*</text>
<text x="158.7" y="578.8" font-size="9.8" text-anchor="middle" fill="#1c1c1c" color="#1c1c1c" >*</text>
<text transform="translate(32.8,638.2) rotate(-90)" font-size="9.6" text-anchor="start" fill="#1c1c1c" color="#1c1c1c" class="r" textLength="58.4" lengthAdjust="spacingAndGlyphs">Number of IgM</text>
<text transform="translate(29.2,579.2) rotate(-90)" font-size="6.4" text-anchor="start" fill="#1c1c1c" color="#1c1c1c" class="r">+</text>
<text transform="translate(46.1,625.6) rotate(-90)" font-size="9.6" text-anchor="start" fill="#1c1c1c" color="#1c1c1c" class="r" textLength="36.2" lengthAdjust="spacingAndGlyphs">ASCs X10</text>
<text transform="translate(42.5,589.0) rotate(-90)" font-size="6.4" text-anchor="start" fill="#1c1c1c" color="#1c1c1c" class="r">3</text>
<line x1="231.0" y1="571.3" x2="231.0" y2="642.1" stroke="#1c1c1c" stroke-width="1.3" />
<line x1="227.7" y1="574.2" x2="231.0" y2="574.2" stroke="#1c1c1c" stroke-width="1.1" />
<text x="225.6" y="577.37" font-size="8.8" text-anchor="end" fill="#1c1c1c" color="#1c1c1c" >15</text>
<line x1="227.7" y1="596.7" x2="231.0" y2="596.7" stroke="#1c1c1c" stroke-width="1.1" />
<text x="225.6" y="599.87" font-size="8.8" text-anchor="end" fill="#1c1c1c" color="#1c1c1c" >10</text>
<line x1="227.7" y1="619.0" x2="231.0" y2="619.0" stroke="#1c1c1c" stroke-width="1.1" />
<text x="225.6" y="622.17" font-size="8.8" text-anchor="end" fill="#1c1c1c" color="#1c1c1c" >5</text>
<line x1="227.7" y1="641.5" x2="231.0" y2="641.5" stroke="#1c1c1c" stroke-width="1.1" />
<text x="225.6" y="644.67" font-size="8.8" text-anchor="end" fill="#1c1c1c" color="#1c1c1c" >0</text>
<line x1="230.4" y1="641.5" x2="333.0" y2="641.5" stroke="#1c1c1c" stroke-width="1.5" />
<rect x="233.25" y="639.95" width="10.10" height="1.55" fill="#8a80c0" stroke="#6f64b2" stroke-width="0.7"/>
<rect x="244.05" y="639.55" width="9.90" height="1.95" fill="#3c6a52" stroke="#24553c" stroke-width="0.7"/>
<line x1="235.20" y1="639.5" x2="241.80" y2="639.5" stroke="#1c1c1c" stroke-width="1.15" />
<line x1="249.50" y1="639.2" x2="249.50" y2="638.5" stroke="#1c1c1c" stroke-width="1.15" />
<line x1="246.20" y1="638.5" x2="252.80" y2="638.5" stroke="#1c1c1c" stroke-width="1.15" />
<rect x="258.45" y="635.75" width="10.10" height="5.75" fill="#8a80c0" stroke="#6f64b2" stroke-width="0.7"/>
<rect x="269.25" y="606.85" width="9.90" height="34.65" fill="#3c6a52" stroke="#24553c" stroke-width="0.7"/>
<line x1="263.50" y1="635.4" x2="263.50" y2="633.5" stroke="#1c1c1c" stroke-width="1.15" />
<line x1="260.20" y1="633.5" x2="266.80" y2="633.5" stroke="#1c1c1c" stroke-width="1.15" />
<line x1="274.50" y1="606.5" x2="274.50" y2="598.5" stroke="#1c1c1c" stroke-width="1.15" />
<line x1="271.20" y1="598.5" x2="277.80" y2="598.5" stroke="#1c1c1c" stroke-width="1.15" />
<rect x="284.05" y="634.75" width="10.10" height="6.75" fill="#8a80c0" stroke="#6f64b2" stroke-width="0.7"/>
<rect x="294.85" y="622.65" width="9.90" height="18.85" fill="#3c6a52" stroke="#24553c" stroke-width="0.7"/>
<line x1="289.50" y1="634.4" x2="289.50" y2="632.5" stroke="#1c1c1c" stroke-width="1.15" />
<line x1="286.20" y1="632.5" x2="292.80" y2="632.5" stroke="#1c1c1c" stroke-width="1.15" />
<line x1="299.50" y1="622.3" x2="299.50" y2="620.5" stroke="#1c1c1c" stroke-width="1.15" />
<line x1="296.20" y1="620.5" x2="302.80" y2="620.5" stroke="#1c1c1c" stroke-width="1.15" />
<rect x="309.35" y="637.45" width="10.10" height="4.05" fill="#8a80c0" stroke="#6f64b2" stroke-width="0.7"/>
<rect x="320.15" y="622.65" width="9.90" height="18.85" fill="#3c6a52" stroke="#24553c" stroke-width="0.7"/>
<line x1="314.50" y1="637.1" x2="314.50" y2="635.5" stroke="#1c1c1c" stroke-width="1.15" />
<line x1="311.20" y1="635.5" x2="317.80" y2="635.5" stroke="#1c1c1c" stroke-width="1.15" />
<line x1="325.50" y1="622.3" x2="325.50" y2="617.5" stroke="#1c1c1c" stroke-width="1.15" />
<line x1="322.20" y1="617.5" x2="328.80" y2="617.5" stroke="#1c1c1c" stroke-width="1.15" />
<text x="243.6" y="652.8" font-size="9.2" text-anchor="middle" fill="#1c1c1c" color="#1c1c1c" textLength="11" lengthAdjust="spacingAndGlyphs" >D3</text>
<text x="270.3" y="652.8" font-size="9.2" text-anchor="middle" fill="#1c1c1c" color="#1c1c1c" textLength="11" lengthAdjust="spacingAndGlyphs" >D6</text>
<text x="296.5" y="652.8" font-size="9.2" text-anchor="middle" fill="#1c1c1c" color="#1c1c1c" textLength="16.4" lengthAdjust="spacingAndGlyphs" >D12</text>
<text x="322.1" y="652.8" font-size="9.2" text-anchor="middle" fill="#1c1c1c" color="#1c1c1c" textLength="16.4" lengthAdjust="spacingAndGlyphs" >D45</text>
<text x="264.5" y="579.8" font-size="9.8" text-anchor="middle" fill="#1c1c1c" color="#1c1c1c" >*</text>
<text x="292.7" y="606.5" font-size="9.8" text-anchor="middle" fill="#1c1c1c" color="#1c1c1c" >*</text>
<text x="317.3" y="606.5" font-size="9.8" text-anchor="middle" fill="#1c1c1c" color="#1c1c1c" >*</text>
<text transform="translate(193.6,639.5) rotate(-90)" font-size="9.6" text-anchor="start" fill="#1c1c1c" color="#1c1c1c" class="r" textLength="65.4" lengthAdjust="spacingAndGlyphs">Number of NP15</text>
<text transform="translate(206.3,637.7) rotate(-90)" font-size="9.6" text-anchor="start" fill="#1c1c1c" color="#1c1c1c" class="r" textLength="14.3" lengthAdjust="spacingAndGlyphs">IgM</text>
<text transform="translate(202.6,622.9) rotate(-90)" font-size="6.4" text-anchor="start" fill="#1c1c1c" color="#1c1c1c" class="r">+</text>
<text transform="translate(206.3,617.2) rotate(-90)" font-size="9.6" text-anchor="start" fill="#1c1c1c" color="#1c1c1c" class="r" textLength="38.5" lengthAdjust="spacingAndGlyphs">ASCs X10</text>
<text transform="translate(202.6,578.6) rotate(-90)" font-size="6.4" text-anchor="start" fill="#1c1c1c" color="#1c1c1c" class="r">3</text>
<rect x="358.9" y="592.7" width="10.6" height="10.4" fill="#8a80c0" stroke="#6f64b2" stroke-width="0.7" />
<rect x="358.9" y="610.0" width="10.6" height="10.4" fill="#3c6a52" stroke="#24553c" stroke-width="0.7" />
<text x="373.5" y="600.6" font-size="8.9" text-anchor="start" fill="#1c1c1c" color="#1c1c1c" textLength="13.0" lengthAdjust="spacingAndGlyphs" >WT</text>
<text x="373.5" y="618.0" font-size="9.1" text-anchor="start" fill="#1c1c1c" color="#1c1c1c" textLength="23.2" lengthAdjust="spacingAndGlyphs" >Cxcr4</text>
<text x="397.5" y="614.8" font-size="6.6" text-anchor="start" fill="#1c1c1c" color="#1c1c1c" textLength="21.0" lengthAdjust="spacingAndGlyphs" >+/1013</text>
</svg>
</body></html>
